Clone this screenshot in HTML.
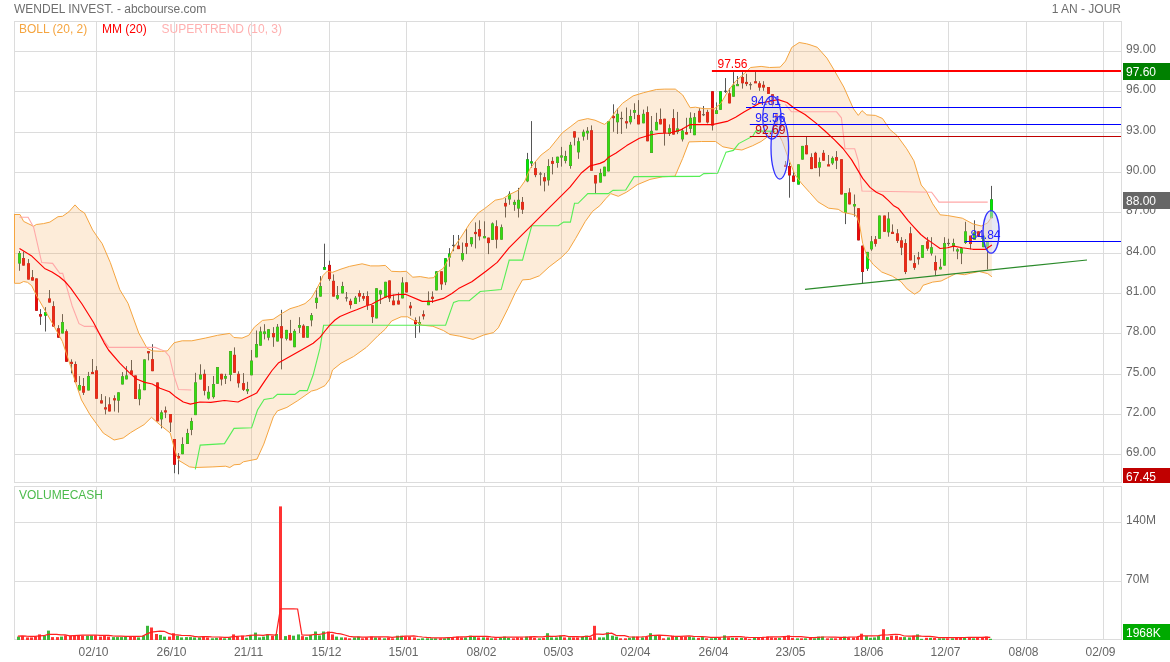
<!DOCTYPE html>
<html><head><meta charset="utf-8"><style>
html,body{margin:0;padding:0;background:#fff;width:1170px;height:662px;overflow:hidden}
svg{display:block}
text{will-change:transform}
</style></head><body>
<svg width="1170" height="662" viewBox="0 0 1170 662">
<rect x="14.5" y="21.5" width="1107" height="461" fill="#fff" stroke="#dcdcdc" stroke-width="1"/>
<rect x="14.5" y="486.5" width="1107" height="153" fill="#fff" stroke="#dcdcdc" stroke-width="1"/>
<line x1="14" y1="51.5" x2="1122" y2="51.5" stroke="#dcdcdc"/>
<line x1="14" y1="91.5" x2="1122" y2="91.5" stroke="#dcdcdc"/>
<line x1="14" y1="132.5" x2="1122" y2="132.5" stroke="#dcdcdc"/>
<line x1="14" y1="172.5" x2="1122" y2="172.5" stroke="#dcdcdc"/>
<line x1="14" y1="212.5" x2="1122" y2="212.5" stroke="#dcdcdc"/>
<line x1="14" y1="253.5" x2="1122" y2="253.5" stroke="#dcdcdc"/>
<line x1="14" y1="293.5" x2="1122" y2="293.5" stroke="#dcdcdc"/>
<line x1="14" y1="333.5" x2="1122" y2="333.5" stroke="#dcdcdc"/>
<line x1="14" y1="374.5" x2="1122" y2="374.5" stroke="#dcdcdc"/>
<line x1="14" y1="414.5" x2="1122" y2="414.5" stroke="#dcdcdc"/>
<line x1="14" y1="454.5" x2="1122" y2="454.5" stroke="#dcdcdc"/>
<line x1="14" y1="522.5" x2="1122" y2="522.5" stroke="#dcdcdc"/>
<line x1="14" y1="581.5" x2="1122" y2="581.5" stroke="#dcdcdc"/>
<line x1="96.5" y1="21" x2="96.5" y2="483" stroke="#dcdcdc"/>
<line x1="96.5" y1="486" x2="96.5" y2="640" stroke="#dcdcdc"/>
<line x1="174.5" y1="21" x2="174.5" y2="483" stroke="#dcdcdc"/>
<line x1="174.5" y1="486" x2="174.5" y2="640" stroke="#dcdcdc"/>
<line x1="251.5" y1="21" x2="251.5" y2="483" stroke="#dcdcdc"/>
<line x1="251.5" y1="486" x2="251.5" y2="640" stroke="#dcdcdc"/>
<line x1="329.5" y1="21" x2="329.5" y2="483" stroke="#dcdcdc"/>
<line x1="329.5" y1="486" x2="329.5" y2="640" stroke="#dcdcdc"/>
<line x1="406.5" y1="21" x2="406.5" y2="483" stroke="#dcdcdc"/>
<line x1="406.5" y1="486" x2="406.5" y2="640" stroke="#dcdcdc"/>
<line x1="484.5" y1="21" x2="484.5" y2="483" stroke="#dcdcdc"/>
<line x1="484.5" y1="486" x2="484.5" y2="640" stroke="#dcdcdc"/>
<line x1="561.5" y1="21" x2="561.5" y2="483" stroke="#dcdcdc"/>
<line x1="561.5" y1="486" x2="561.5" y2="640" stroke="#dcdcdc"/>
<line x1="638.5" y1="21" x2="638.5" y2="483" stroke="#dcdcdc"/>
<line x1="638.5" y1="486" x2="638.5" y2="640" stroke="#dcdcdc"/>
<line x1="716.5" y1="21" x2="716.5" y2="483" stroke="#dcdcdc"/>
<line x1="716.5" y1="486" x2="716.5" y2="640" stroke="#dcdcdc"/>
<line x1="793.5" y1="21" x2="793.5" y2="483" stroke="#dcdcdc"/>
<line x1="793.5" y1="486" x2="793.5" y2="640" stroke="#dcdcdc"/>
<line x1="871.5" y1="21" x2="871.5" y2="483" stroke="#dcdcdc"/>
<line x1="871.5" y1="486" x2="871.5" y2="640" stroke="#dcdcdc"/>
<line x1="948.5" y1="21" x2="948.5" y2="483" stroke="#dcdcdc"/>
<line x1="948.5" y1="486" x2="948.5" y2="640" stroke="#dcdcdc"/>
<line x1="1026.5" y1="21" x2="1026.5" y2="483" stroke="#dcdcdc"/>
<line x1="1026.5" y1="486" x2="1026.5" y2="640" stroke="#dcdcdc"/>
<line x1="1103.5" y1="21" x2="1103.5" y2="483" stroke="#dcdcdc"/>
<line x1="1103.5" y1="486" x2="1103.5" y2="640" stroke="#dcdcdc"/>
<line x1="19.5" y1="251.0" x2="19.5" y2="270.8" stroke="#555" stroke-width="1"/>
<rect x="18" y="253.0" width="3" height="10.6" fill="#2c962c"/>
<rect x="18.5" y="253.5" width="2" height="9.6" fill="#00ee00"/>
<line x1="23.5" y1="251.5" x2="23.5" y2="265.6" stroke="#555" stroke-width="1"/>
<rect x="22" y="258.0" width="3" height="7.6" fill="#b81c1c"/>
<rect x="22.5" y="258.5" width="2" height="6.6" fill="#f00808"/>
<line x1="28.5" y1="259.0" x2="28.5" y2="279.6" stroke="#555" stroke-width="1"/>
<rect x="27" y="263.2" width="3" height="16.4" fill="#b81c1c"/>
<rect x="27.5" y="263.7" width="2" height="15.4" fill="#f00808"/>
<line x1="32.5" y1="270.0" x2="32.5" y2="280.6" stroke="#555" stroke-width="1"/>
<rect x="31" y="277.2" width="3" height="3.4" fill="#b81c1c"/>
<rect x="31.5" y="277.7" width="2" height="2.4" fill="#f00808"/>
<line x1="36.5" y1="278.4" x2="36.5" y2="310.8" stroke="#555" stroke-width="1"/>
<rect x="35" y="278.4" width="3" height="32.4" fill="#b81c1c"/>
<rect x="35.5" y="278.9" width="2" height="31.4" fill="#f00808"/>
<line x1="40.5" y1="309.1" x2="40.5" y2="324.9" stroke="#555" stroke-width="1"/>
<rect x="39" y="314.1" width="3" height="2.5" fill="#b81c1c"/>
<rect x="39.5" y="314.6" width="2" height="1.5" fill="#f00808"/>
<line x1="45.5" y1="307.1" x2="45.5" y2="331.5" stroke="#555" stroke-width="1"/>
<rect x="44" y="312.1" width="3" height="3.7" fill="#2c962c"/>
<rect x="44.5" y="312.6" width="2" height="2.7" fill="#00ee00"/>
<line x1="49.5" y1="290.0" x2="49.5" y2="302.6" stroke="#555" stroke-width="1"/>
<rect x="48" y="298.4" width="3" height="4.2" fill="#b81c1c"/>
<rect x="48.5" y="298.9" width="2" height="3.2" fill="#f00808"/>
<line x1="53.5" y1="301.3" x2="53.5" y2="326.6" stroke="#555" stroke-width="1"/>
<rect x="52" y="306.1" width="3" height="20.5" fill="#b81c1c"/>
<rect x="52.5" y="306.6" width="2" height="19.5" fill="#f00808"/>
<line x1="58.5" y1="325.2" x2="58.5" y2="337.7" stroke="#555" stroke-width="1"/>
<rect x="57" y="328.2" width="3" height="9.5" fill="#b81c1c"/>
<rect x="57.5" y="328.7" width="2" height="8.5" fill="#f00808"/>
<line x1="62.5" y1="314.1" x2="62.5" y2="333.5" stroke="#555" stroke-width="1"/>
<rect x="61" y="322.0" width="3" height="11.5" fill="#2c962c"/>
<rect x="61.5" y="322.5" width="2" height="10.5" fill="#00ee00"/>
<line x1="66.5" y1="329.4" x2="66.5" y2="361.8" stroke="#555" stroke-width="1"/>
<rect x="65" y="331.2" width="3" height="30.6" fill="#b81c1c"/>
<rect x="65.5" y="331.7" width="2" height="29.6" fill="#f00808"/>
<line x1="71.5" y1="359.3" x2="71.5" y2="373.4" stroke="#555" stroke-width="1"/>
<rect x="70" y="361.8" width="3" height="2.2" fill="#b81c1c"/>
<rect x="70.5" y="362.3" width="2" height="1.2" fill="#f00808"/>
<line x1="75.5" y1="361.5" x2="75.5" y2="382.2" stroke="#555" stroke-width="1"/>
<rect x="74" y="364.0" width="3" height="18.2" fill="#b81c1c"/>
<rect x="74.5" y="364.5" width="2" height="17.2" fill="#f00808"/>
<line x1="79.5" y1="376.1" x2="79.5" y2="390.5" stroke="#555" stroke-width="1"/>
<rect x="78" y="385.0" width="3" height="5.5" fill="#2c962c"/>
<rect x="78.5" y="385.5" width="2" height="4.5" fill="#00ee00"/>
<line x1="83.5" y1="378.0" x2="83.5" y2="395.0" stroke="#555" stroke-width="1"/>
<rect x="82" y="386.0" width="3" height="6.7" fill="#b81c1c"/>
<rect x="82.5" y="386.5" width="2" height="5.7" fill="#f00808"/>
<line x1="88.5" y1="371.9" x2="88.5" y2="390.5" stroke="#555" stroke-width="1"/>
<rect x="87" y="376.0" width="3" height="14.5" fill="#2c962c"/>
<rect x="87.5" y="376.5" width="2" height="13.5" fill="#00ee00"/>
<line x1="92.5" y1="359.0" x2="92.5" y2="373.6" stroke="#555" stroke-width="1"/>
<rect x="91" y="371.9" width="3" height="2.2" fill="#b81c1c"/>
<rect x="91.5" y="372.4" width="2" height="1.2" fill="#f00808"/>
<line x1="96.5" y1="366.1" x2="96.5" y2="398.8" stroke="#555" stroke-width="1"/>
<rect x="95" y="370.3" width="3" height="28.5" fill="#b81c1c"/>
<rect x="95.5" y="370.8" width="2" height="27.5" fill="#f00808"/>
<line x1="101.5" y1="394.0" x2="101.5" y2="403.5" stroke="#555" stroke-width="1"/>
<rect x="100" y="400.3" width="3" height="3.2" fill="#b81c1c"/>
<rect x="100.5" y="400.8" width="2" height="2.2" fill="#f00808"/>
<line x1="105.5" y1="396.2" x2="105.5" y2="414.4" stroke="#555" stroke-width="1"/>
<rect x="104" y="407.3" width="3" height="2.2" fill="#b81c1c"/>
<rect x="104.5" y="407.8" width="2" height="1.2" fill="#f00808"/>
<line x1="109.5" y1="397.3" x2="109.5" y2="411.5" stroke="#555" stroke-width="1"/>
<rect x="108" y="404.3" width="3" height="7.2" fill="#b81c1c"/>
<rect x="108.5" y="404.8" width="2" height="6.2" fill="#f00808"/>
<line x1="114.5" y1="395.3" x2="114.5" y2="411.5" stroke="#555" stroke-width="1"/>
<rect x="113" y="398.2" width="3" height="2.2" fill="#b81c1c"/>
<rect x="113.5" y="398.7" width="2" height="1.2" fill="#f00808"/>
<line x1="118.5" y1="392.3" x2="118.5" y2="412.6" stroke="#555" stroke-width="1"/>
<rect x="117" y="392.3" width="3" height="8.4" fill="#2c962c"/>
<rect x="117.5" y="392.8" width="2" height="7.4" fill="#00ee00"/>
<line x1="122.5" y1="372.1" x2="122.5" y2="384.5" stroke="#555" stroke-width="1"/>
<rect x="121" y="376.2" width="3" height="8.3" fill="#2c962c"/>
<rect x="121.5" y="376.7" width="2" height="7.3" fill="#00ee00"/>
<line x1="126.5" y1="366.1" x2="126.5" y2="379.4" stroke="#555" stroke-width="1"/>
<rect x="125" y="375.4" width="3" height="4.0" fill="#2c962c"/>
<rect x="125.5" y="375.9" width="2" height="3.0" fill="#00ee00"/>
<line x1="131.5" y1="360.0" x2="131.5" y2="374.6" stroke="#555" stroke-width="1"/>
<rect x="130" y="370.4" width="3" height="4.2" fill="#b81c1c"/>
<rect x="130.5" y="370.9" width="2" height="3.2" fill="#f00808"/>
<line x1="135.5" y1="375.4" x2="135.5" y2="399.0" stroke="#555" stroke-width="1"/>
<rect x="134" y="375.4" width="3" height="23.6" fill="#b81c1c"/>
<rect x="134.5" y="375.9" width="2" height="22.6" fill="#f00808"/>
<line x1="139.5" y1="384.0" x2="139.5" y2="405.3" stroke="#555" stroke-width="1"/>
<rect x="138" y="389.4" width="3" height="9.9" fill="#2c962c"/>
<rect x="138.5" y="389.9" width="2" height="8.9" fill="#00ee00"/>
<line x1="144.5" y1="359.4" x2="144.5" y2="390.2" stroke="#555" stroke-width="1"/>
<rect x="143" y="359.4" width="3" height="30.8" fill="#2c962c"/>
<rect x="143.5" y="359.9" width="2" height="29.8" fill="#00ee00"/>
<line x1="148.5" y1="351.1" x2="148.5" y2="360.4" stroke="#555" stroke-width="1"/>
<rect x="147" y="351.1" width="3" height="2.2" fill="#b81c1c"/>
<rect x="147.5" y="351.6" width="2" height="1.2" fill="#f00808"/>
<line x1="152.5" y1="344.2" x2="152.5" y2="371.2" stroke="#555" stroke-width="1"/>
<rect x="151" y="359.1" width="3" height="12.1" fill="#b81c1c"/>
<rect x="151.5" y="359.6" width="2" height="11.1" fill="#f00808"/>
<line x1="157.5" y1="382.4" x2="157.5" y2="421.4" stroke="#555" stroke-width="1"/>
<rect x="156" y="382.4" width="3" height="39.0" fill="#b81c1c"/>
<rect x="156.5" y="382.9" width="2" height="38.0" fill="#f00808"/>
<line x1="161.5" y1="410.3" x2="161.5" y2="428.4" stroke="#555" stroke-width="1"/>
<rect x="160" y="412.3" width="3" height="7.1" fill="#2c962c"/>
<rect x="160.5" y="412.8" width="2" height="6.1" fill="#00ee00"/>
<line x1="165.5" y1="406.5" x2="165.5" y2="418.1" stroke="#555" stroke-width="1"/>
<rect x="164" y="410.3" width="3" height="2.2" fill="#b81c1c"/>
<rect x="164.5" y="410.8" width="2" height="1.2" fill="#f00808"/>
<line x1="170.5" y1="414.0" x2="170.5" y2="432.0" stroke="#555" stroke-width="1"/>
<rect x="169" y="414.0" width="3" height="8.5" fill="#b81c1c"/>
<rect x="169.5" y="414.5" width="2" height="7.5" fill="#f00808"/>
<line x1="174.5" y1="439.0" x2="174.5" y2="473.2" stroke="#555" stroke-width="1"/>
<rect x="173" y="439.0" width="3" height="25.8" fill="#b81c1c"/>
<rect x="173.5" y="439.5" width="2" height="24.8" fill="#f00808"/>
<line x1="178.5" y1="453.1" x2="178.5" y2="474.3" stroke="#555" stroke-width="1"/>
<rect x="177" y="455.9" width="3" height="2.5" fill="#b81c1c"/>
<rect x="177.5" y="456.4" width="2" height="1.5" fill="#f00808"/>
<line x1="182.5" y1="437.3" x2="182.5" y2="454.2" stroke="#555" stroke-width="1"/>
<rect x="181" y="444.0" width="3" height="10.2" fill="#2c962c"/>
<rect x="181.5" y="444.5" width="2" height="9.2" fill="#00ee00"/>
<line x1="187.5" y1="428.8" x2="187.5" y2="444.0" stroke="#555" stroke-width="1"/>
<rect x="186" y="433.0" width="3" height="11.0" fill="#2c962c"/>
<rect x="186.5" y="433.5" width="2" height="10.0" fill="#00ee00"/>
<line x1="191.5" y1="417.8" x2="191.5" y2="435.2" stroke="#555" stroke-width="1"/>
<rect x="190" y="421.0" width="3" height="8.9" fill="#2c962c"/>
<rect x="190.5" y="421.5" width="2" height="7.9" fill="#00ee00"/>
<line x1="195.5" y1="372.8" x2="195.5" y2="415.1" stroke="#555" stroke-width="1"/>
<rect x="194" y="382.3" width="3" height="32.8" fill="#2c962c"/>
<rect x="194.5" y="382.8" width="2" height="31.8" fill="#00ee00"/>
<line x1="200.5" y1="364.3" x2="200.5" y2="379.5" stroke="#555" stroke-width="1"/>
<rect x="199" y="374.5" width="3" height="5.0" fill="#2c962c"/>
<rect x="199.5" y="375.0" width="2" height="4.0" fill="#00ee00"/>
<line x1="204.5" y1="369.6" x2="204.5" y2="395.4" stroke="#555" stroke-width="1"/>
<rect x="203" y="373.8" width="3" height="17.0" fill="#b81c1c"/>
<rect x="203.5" y="374.3" width="2" height="16.0" fill="#f00808"/>
<line x1="208.5" y1="386.1" x2="208.5" y2="399.6" stroke="#555" stroke-width="1"/>
<rect x="207" y="391.8" width="3" height="6.8" fill="#2c962c"/>
<rect x="207.5" y="392.3" width="2" height="5.8" fill="#00ee00"/>
<line x1="213.5" y1="376.0" x2="213.5" y2="398.6" stroke="#555" stroke-width="1"/>
<rect x="212" y="384.0" width="3" height="13.1" fill="#2c962c"/>
<rect x="212.5" y="384.5" width="2" height="12.1" fill="#00ee00"/>
<line x1="217.5" y1="367.0" x2="217.5" y2="383.8" stroke="#555" stroke-width="1"/>
<rect x="216" y="367.0" width="3" height="16.8" fill="#2c962c"/>
<rect x="216.5" y="367.5" width="2" height="15.8" fill="#00ee00"/>
<line x1="221.5" y1="373.8" x2="221.5" y2="385.5" stroke="#555" stroke-width="1"/>
<rect x="220" y="373.8" width="3" height="5.7" fill="#b81c1c"/>
<rect x="220.5" y="374.3" width="2" height="4.7" fill="#f00808"/>
<line x1="225.5" y1="373.8" x2="225.5" y2="384.0" stroke="#555" stroke-width="1"/>
<rect x="224" y="376.0" width="3" height="2.7" fill="#2c962c"/>
<rect x="224.5" y="376.5" width="2" height="1.7" fill="#00ee00"/>
<line x1="230.5" y1="351.0" x2="230.5" y2="381.2" stroke="#555" stroke-width="1"/>
<rect x="229" y="351.0" width="3" height="23.9" fill="#2c962c"/>
<rect x="229.5" y="351.5" width="2" height="22.9" fill="#00ee00"/>
<line x1="234.5" y1="347.4" x2="234.5" y2="372.8" stroke="#555" stroke-width="1"/>
<rect x="233" y="354.8" width="3" height="18.0" fill="#b81c1c"/>
<rect x="233.5" y="355.3" width="2" height="17.0" fill="#f00808"/>
<line x1="238.5" y1="371.3" x2="238.5" y2="387.6" stroke="#555" stroke-width="1"/>
<rect x="237" y="373.8" width="3" height="9.5" fill="#b81c1c"/>
<rect x="237.5" y="374.3" width="2" height="8.5" fill="#f00808"/>
<line x1="243.5" y1="373.1" x2="243.5" y2="391.0" stroke="#555" stroke-width="1"/>
<rect x="242" y="383.1" width="3" height="6.7" fill="#b81c1c"/>
<rect x="242.5" y="383.6" width="2" height="5.7" fill="#f00808"/>
<line x1="247.5" y1="381.8" x2="247.5" y2="394.0" stroke="#555" stroke-width="1"/>
<rect x="246" y="389.0" width="3" height="2.3" fill="#2c962c"/>
<rect x="246.5" y="389.5" width="2" height="1.3" fill="#00ee00"/>
<line x1="251.5" y1="350.0" x2="251.5" y2="375.3" stroke="#555" stroke-width="1"/>
<rect x="250" y="360.5" width="3" height="14.8" fill="#2c962c"/>
<rect x="250.5" y="361.0" width="2" height="13.8" fill="#00ee00"/>
<line x1="256.5" y1="330.5" x2="256.5" y2="357.4" stroke="#555" stroke-width="1"/>
<rect x="255" y="344.0" width="3" height="13.4" fill="#2c962c"/>
<rect x="255.5" y="344.5" width="2" height="12.4" fill="#00ee00"/>
<line x1="260.5" y1="326.7" x2="260.5" y2="345.7" stroke="#555" stroke-width="1"/>
<rect x="259" y="331.4" width="3" height="14.3" fill="#2c962c"/>
<rect x="259.5" y="331.9" width="2" height="13.3" fill="#00ee00"/>
<line x1="264.5" y1="324.2" x2="264.5" y2="339.4" stroke="#555" stroke-width="1"/>
<rect x="263" y="331.4" width="3" height="2.7" fill="#2c962c"/>
<rect x="263.5" y="331.9" width="2" height="1.7" fill="#00ee00"/>
<line x1="268.5" y1="329.2" x2="268.5" y2="340.4" stroke="#555" stroke-width="1"/>
<rect x="267" y="329.2" width="3" height="8.5" fill="#2c962c"/>
<rect x="267.5" y="329.7" width="2" height="7.5" fill="#00ee00"/>
<line x1="273.5" y1="327.1" x2="273.5" y2="346.8" stroke="#555" stroke-width="1"/>
<rect x="272" y="333.0" width="3" height="4.3" fill="#b81c1c"/>
<rect x="272.5" y="333.5" width="2" height="3.3" fill="#f00808"/>
<line x1="277.5" y1="324.0" x2="277.5" y2="341.5" stroke="#555" stroke-width="1"/>
<rect x="276" y="326.7" width="3" height="14.8" fill="#2c962c"/>
<rect x="276.5" y="327.2" width="2" height="13.8" fill="#00ee00"/>
<line x1="281.5" y1="309.8" x2="281.5" y2="369.4" stroke="#555" stroke-width="1"/>
<rect x="280" y="326.1" width="3" height="12.2" fill="#b81c1c"/>
<rect x="280.5" y="326.6" width="2" height="11.2" fill="#f00808"/>
<line x1="286.5" y1="329.9" x2="286.5" y2="340.4" stroke="#555" stroke-width="1"/>
<rect x="285" y="329.9" width="3" height="8.9" fill="#2c962c"/>
<rect x="285.5" y="330.4" width="2" height="7.9" fill="#00ee00"/>
<line x1="290.5" y1="319.9" x2="290.5" y2="340.4" stroke="#555" stroke-width="1"/>
<rect x="289" y="333.0" width="3" height="7.4" fill="#b81c1c"/>
<rect x="289.5" y="333.5" width="2" height="6.4" fill="#f00808"/>
<line x1="294.5" y1="329.2" x2="294.5" y2="347.2" stroke="#555" stroke-width="1"/>
<rect x="293" y="330.9" width="3" height="16.3" fill="#2c962c"/>
<rect x="293.5" y="331.4" width="2" height="15.3" fill="#00ee00"/>
<line x1="299.5" y1="317.2" x2="299.5" y2="333.0" stroke="#555" stroke-width="1"/>
<rect x="298" y="325.0" width="3" height="2.8" fill="#2c962c"/>
<rect x="298.5" y="325.5" width="2" height="1.8" fill="#00ee00"/>
<line x1="303.5" y1="324.2" x2="303.5" y2="337.7" stroke="#555" stroke-width="1"/>
<rect x="302" y="325.6" width="3" height="12.1" fill="#b81c1c"/>
<rect x="302.5" y="326.1" width="2" height="11.1" fill="#f00808"/>
<line x1="307.5" y1="326.1" x2="307.5" y2="337.7" stroke="#555" stroke-width="1"/>
<rect x="306" y="326.1" width="3" height="11.6" fill="#2c962c"/>
<rect x="306.5" y="326.6" width="2" height="10.6" fill="#00ee00"/>
<line x1="311.5" y1="313.0" x2="311.5" y2="326.3" stroke="#555" stroke-width="1"/>
<rect x="310" y="315.1" width="3" height="5.3" fill="#2c962c"/>
<rect x="310.5" y="315.6" width="2" height="4.3" fill="#00ee00"/>
<line x1="316.5" y1="288.2" x2="316.5" y2="308.7" stroke="#555" stroke-width="1"/>
<rect x="315" y="297.7" width="3" height="5.3" fill="#2c962c"/>
<rect x="315.5" y="298.2" width="2" height="4.3" fill="#00ee00"/>
<line x1="320.5" y1="276.1" x2="320.5" y2="296.6" stroke="#555" stroke-width="1"/>
<rect x="319" y="286.0" width="3" height="10.6" fill="#2c962c"/>
<rect x="319.5" y="286.5" width="2" height="9.6" fill="#00ee00"/>
<line x1="324.5" y1="243.7" x2="324.5" y2="269.8" stroke="#555" stroke-width="1"/>
<rect x="323" y="267.0" width="3" height="2.8" fill="#2c962c"/>
<rect x="323.5" y="267.5" width="2" height="1.8" fill="#00ee00"/>
<line x1="329.5" y1="260.7" x2="329.5" y2="280.8" stroke="#555" stroke-width="1"/>
<rect x="328" y="264.9" width="3" height="14.2" fill="#b81c1c"/>
<rect x="328.5" y="265.4" width="2" height="13.2" fill="#f00808"/>
<line x1="333.5" y1="274.4" x2="333.5" y2="296.6" stroke="#555" stroke-width="1"/>
<rect x="332" y="280.8" width="3" height="15.8" fill="#b81c1c"/>
<rect x="332.5" y="281.3" width="2" height="14.8" fill="#f00808"/>
<line x1="337.5" y1="286.0" x2="337.5" y2="299.8" stroke="#555" stroke-width="1"/>
<rect x="336" y="295.1" width="3" height="3.6" fill="#2c962c"/>
<rect x="336.5" y="295.6" width="2" height="2.6" fill="#00ee00"/>
<line x1="342.5" y1="281.8" x2="342.5" y2="293.4" stroke="#555" stroke-width="1"/>
<rect x="341" y="286.0" width="3" height="7.4" fill="#2c962c"/>
<rect x="341.5" y="286.5" width="2" height="6.4" fill="#00ee00"/>
<line x1="346.5" y1="292.0" x2="346.5" y2="301.5" stroke="#555" stroke-width="1"/>
<rect x="345" y="297.3" width="3" height="1.2" fill="#555"/>
<line x1="350.5" y1="298.7" x2="350.5" y2="308.7" stroke="#555" stroke-width="1"/>
<rect x="349" y="300.8" width="3" height="4.3" fill="#b81c1c"/>
<rect x="349.5" y="301.3" width="2" height="3.3" fill="#f00808"/>
<line x1="355.5" y1="296.0" x2="355.5" y2="304.0" stroke="#555" stroke-width="1"/>
<rect x="354" y="297.7" width="3" height="6.3" fill="#2c962c"/>
<rect x="354.5" y="298.2" width="2" height="5.3" fill="#00ee00"/>
<line x1="359.5" y1="290.3" x2="359.5" y2="301.9" stroke="#555" stroke-width="1"/>
<rect x="358" y="293.0" width="3" height="3.6" fill="#b81c1c"/>
<rect x="358.5" y="293.5" width="2" height="2.6" fill="#f00808"/>
<line x1="363.5" y1="293.0" x2="363.5" y2="300.8" stroke="#555" stroke-width="1"/>
<rect x="362" y="296.0" width="3" height="2.7" fill="#b81c1c"/>
<rect x="362.5" y="296.5" width="2" height="1.7" fill="#f00808"/>
<line x1="367.5" y1="291.3" x2="367.5" y2="309.9" stroke="#555" stroke-width="1"/>
<rect x="366" y="296.0" width="3" height="9.1" fill="#b81c1c"/>
<rect x="366.5" y="296.5" width="2" height="8.1" fill="#f00808"/>
<line x1="372.5" y1="305.1" x2="372.5" y2="323.0" stroke="#555" stroke-width="1"/>
<rect x="371" y="305.1" width="3" height="12.0" fill="#b81c1c"/>
<rect x="371.5" y="305.6" width="2" height="11.0" fill="#f00808"/>
<line x1="376.5" y1="288.2" x2="376.5" y2="318.4" stroke="#555" stroke-width="1"/>
<rect x="375" y="288.2" width="3" height="30.2" fill="#2c962c"/>
<rect x="375.5" y="288.7" width="2" height="29.2" fill="#00ee00"/>
<line x1="380.5" y1="289.8" x2="380.5" y2="304.0" stroke="#555" stroke-width="1"/>
<rect x="379" y="290.3" width="3" height="4.2" fill="#2c962c"/>
<rect x="379.5" y="290.8" width="2" height="3.2" fill="#00ee00"/>
<line x1="385.5" y1="281.8" x2="385.5" y2="297.7" stroke="#555" stroke-width="1"/>
<rect x="384" y="281.8" width="3" height="15.9" fill="#2c962c"/>
<rect x="384.5" y="282.3" width="2" height="14.9" fill="#00ee00"/>
<line x1="389.5" y1="280.4" x2="389.5" y2="302.0" stroke="#555" stroke-width="1"/>
<rect x="388" y="280.4" width="3" height="18.0" fill="#b81c1c"/>
<rect x="388.5" y="280.9" width="2" height="17.0" fill="#f00808"/>
<line x1="393.5" y1="294.6" x2="393.5" y2="305.2" stroke="#555" stroke-width="1"/>
<rect x="392" y="300.5" width="3" height="4.7" fill="#b81c1c"/>
<rect x="392.5" y="301.0" width="2" height="3.7" fill="#f00808"/>
<line x1="398.5" y1="292.5" x2="398.5" y2="304.5" stroke="#555" stroke-width="1"/>
<rect x="397" y="300.5" width="3" height="4.0" fill="#b81c1c"/>
<rect x="397.5" y="301.0" width="2" height="3.0" fill="#f00808"/>
<line x1="402.5" y1="277.2" x2="402.5" y2="298.4" stroke="#555" stroke-width="1"/>
<rect x="401" y="282.5" width="3" height="15.9" fill="#2c962c"/>
<rect x="401.5" y="283.0" width="2" height="14.9" fill="#00ee00"/>
<line x1="406.5" y1="282.3" x2="406.5" y2="292.5" stroke="#555" stroke-width="1"/>
<rect x="405" y="282.3" width="3" height="10.2" fill="#b81c1c"/>
<rect x="405.5" y="282.8" width="2" height="9.2" fill="#f00808"/>
<line x1="410.5" y1="302.0" x2="410.5" y2="315.7" stroke="#555" stroke-width="1"/>
<rect x="409" y="305.6" width="3" height="2.7" fill="#b81c1c"/>
<rect x="409.5" y="306.1" width="2" height="1.7" fill="#f00808"/>
<line x1="415.5" y1="317.4" x2="415.5" y2="337.9" stroke="#555" stroke-width="1"/>
<rect x="414" y="320.0" width="3" height="4.2" fill="#b81c1c"/>
<rect x="414.5" y="320.5" width="2" height="3.2" fill="#f00808"/>
<line x1="419.5" y1="316.4" x2="419.5" y2="332.6" stroke="#555" stroke-width="1"/>
<rect x="418" y="322.0" width="3" height="2.2" fill="#2c962c"/>
<rect x="418.5" y="322.5" width="2" height="1.2" fill="#00ee00"/>
<line x1="423.5" y1="310.4" x2="423.5" y2="319.5" stroke="#555" stroke-width="1"/>
<rect x="422" y="314.2" width="3" height="2.2" fill="#b81c1c"/>
<rect x="422.5" y="314.7" width="2" height="1.2" fill="#f00808"/>
<line x1="428.5" y1="291.4" x2="428.5" y2="305.2" stroke="#555" stroke-width="1"/>
<rect x="427" y="300.5" width="3" height="4.7" fill="#2c962c"/>
<rect x="427.5" y="301.0" width="2" height="3.7" fill="#00ee00"/>
<line x1="432.5" y1="291.4" x2="432.5" y2="303.0" stroke="#555" stroke-width="1"/>
<rect x="431" y="296.7" width="3" height="2.2" fill="#b81c1c"/>
<rect x="431.5" y="297.2" width="2" height="1.2" fill="#f00808"/>
<line x1="436.5" y1="271.3" x2="436.5" y2="290.4" stroke="#555" stroke-width="1"/>
<rect x="435" y="271.3" width="3" height="19.1" fill="#2c962c"/>
<rect x="435.5" y="271.8" width="2" height="18.1" fill="#00ee00"/>
<line x1="441.5" y1="271.3" x2="441.5" y2="289.9" stroke="#555" stroke-width="1"/>
<rect x="440" y="271.3" width="3" height="13.1" fill="#b81c1c"/>
<rect x="440.5" y="271.8" width="2" height="12.1" fill="#f00808"/>
<line x1="445.5" y1="258.2" x2="445.5" y2="285.1" stroke="#555" stroke-width="1"/>
<rect x="444" y="258.2" width="3" height="24.1" fill="#2c962c"/>
<rect x="444.5" y="258.7" width="2" height="23.1" fill="#00ee00"/>
<line x1="449.5" y1="248.1" x2="449.5" y2="266.7" stroke="#555" stroke-width="1"/>
<rect x="448" y="253.4" width="3" height="4.2" fill="#2c962c"/>
<rect x="448.5" y="253.9" width="2" height="3.2" fill="#00ee00"/>
<line x1="453.5" y1="235.0" x2="453.5" y2="251.2" stroke="#555" stroke-width="1"/>
<rect x="452" y="244.8" width="3" height="1.2" fill="#555"/>
<line x1="458.5" y1="235.0" x2="458.5" y2="249.1" stroke="#555" stroke-width="1"/>
<rect x="457" y="245.5" width="3" height="3.6" fill="#b81c1c"/>
<rect x="457.5" y="246.0" width="2" height="2.6" fill="#f00808"/>
<line x1="462.5" y1="242.5" x2="462.5" y2="261.5" stroke="#555" stroke-width="1"/>
<rect x="461" y="253.0" width="3" height="6.8" fill="#2c962c"/>
<rect x="461.5" y="253.5" width="2" height="5.8" fill="#00ee00"/>
<line x1="466.5" y1="228.1" x2="466.5" y2="254.1" stroke="#555" stroke-width="1"/>
<rect x="465" y="243.1" width="3" height="3.6" fill="#b81c1c"/>
<rect x="465.5" y="243.6" width="2" height="2.6" fill="#f00808"/>
<line x1="471.5" y1="237.2" x2="471.5" y2="246.7" stroke="#555" stroke-width="1"/>
<rect x="470" y="237.2" width="3" height="7.0" fill="#2c962c"/>
<rect x="470.5" y="237.7" width="2" height="6.0" fill="#00ee00"/>
<line x1="475.5" y1="222.4" x2="475.5" y2="248.4" stroke="#555" stroke-width="1"/>
<rect x="474" y="231.9" width="3" height="2.2" fill="#b81c1c"/>
<rect x="474.5" y="232.4" width="2" height="1.2" fill="#f00808"/>
<line x1="479.5" y1="220.3" x2="479.5" y2="240.4" stroke="#555" stroke-width="1"/>
<rect x="478" y="229.1" width="3" height="7.4" fill="#b81c1c"/>
<rect x="478.5" y="229.6" width="2" height="6.4" fill="#f00808"/>
<line x1="484.5" y1="221.3" x2="484.5" y2="238.2" stroke="#555" stroke-width="1"/>
<rect x="483" y="236.1" width="3" height="2.2" fill="#2c962c"/>
<rect x="483.5" y="236.6" width="2" height="1.2" fill="#00ee00"/>
<line x1="488.5" y1="237.6" x2="488.5" y2="254.1" stroke="#555" stroke-width="1"/>
<rect x="487" y="237.6" width="3" height="5.5" fill="#b81c1c"/>
<rect x="487.5" y="238.1" width="2" height="4.5" fill="#f00808"/>
<line x1="492.5" y1="222.4" x2="492.5" y2="239.9" stroke="#555" stroke-width="1"/>
<rect x="491" y="223.4" width="3" height="16.5" fill="#2c962c"/>
<rect x="491.5" y="223.9" width="2" height="15.5" fill="#00ee00"/>
<line x1="496.5" y1="220.3" x2="496.5" y2="248.4" stroke="#555" stroke-width="1"/>
<rect x="495" y="226.2" width="3" height="13.5" fill="#b81c1c"/>
<rect x="495.5" y="226.7" width="2" height="12.5" fill="#f00808"/>
<line x1="501.5" y1="224.5" x2="501.5" y2="239.7" stroke="#555" stroke-width="1"/>
<rect x="500" y="227.2" width="3" height="12.5" fill="#2c962c"/>
<rect x="500.5" y="227.7" width="2" height="11.5" fill="#00ee00"/>
<line x1="505.5" y1="198.1" x2="505.5" y2="217.5" stroke="#555" stroke-width="1"/>
<rect x="504" y="202.9" width="3" height="3.6" fill="#b81c1c"/>
<rect x="504.5" y="203.4" width="2" height="2.6" fill="#f00808"/>
<line x1="509.5" y1="191.3" x2="509.5" y2="204.8" stroke="#555" stroke-width="1"/>
<rect x="508" y="193.8" width="3" height="5.7" fill="#2c962c"/>
<rect x="508.5" y="194.3" width="2" height="4.7" fill="#00ee00"/>
<line x1="514.5" y1="199.8" x2="514.5" y2="210.8" stroke="#555" stroke-width="1"/>
<rect x="513" y="201.9" width="3" height="2.9" fill="#2c962c"/>
<rect x="513.5" y="202.4" width="2" height="1.9" fill="#00ee00"/>
<line x1="518.5" y1="187.9" x2="518.5" y2="217.5" stroke="#555" stroke-width="1"/>
<rect x="517" y="199.8" width="3" height="8.8" fill="#2c962c"/>
<rect x="517.5" y="200.3" width="2" height="7.8" fill="#00ee00"/>
<line x1="522.5" y1="197.0" x2="522.5" y2="213.9" stroke="#555" stroke-width="1"/>
<rect x="521" y="201.9" width="3" height="7.8" fill="#b81c1c"/>
<rect x="521.5" y="202.4" width="2" height="6.8" fill="#f00808"/>
<line x1="527.5" y1="152.9" x2="527.5" y2="182.2" stroke="#555" stroke-width="1"/>
<rect x="526" y="159.2" width="3" height="22.2" fill="#2c962c"/>
<rect x="526.5" y="159.7" width="2" height="21.2" fill="#00ee00"/>
<line x1="531.5" y1="121.1" x2="531.5" y2="167.7" stroke="#555" stroke-width="1"/>
<rect x="530" y="161.3" width="3" height="2.2" fill="#2c962c"/>
<rect x="530.5" y="161.8" width="2" height="1.2" fill="#00ee00"/>
<line x1="535.5" y1="161.3" x2="535.5" y2="177.2" stroke="#555" stroke-width="1"/>
<rect x="534" y="168.1" width="3" height="7.0" fill="#b81c1c"/>
<rect x="534.5" y="168.6" width="2" height="6.0" fill="#f00808"/>
<line x1="540.5" y1="171.9" x2="540.5" y2="185.6" stroke="#555" stroke-width="1"/>
<rect x="539" y="173.4" width="3" height="1.2" fill="#555"/>
<line x1="544.5" y1="173.0" x2="544.5" y2="191.4" stroke="#555" stroke-width="1"/>
<rect x="543" y="177.2" width="3" height="4.2" fill="#b81c1c"/>
<rect x="543.5" y="177.7" width="2" height="3.2" fill="#f00808"/>
<line x1="548.5" y1="159.2" x2="548.5" y2="185.6" stroke="#555" stroke-width="1"/>
<rect x="547" y="166.0" width="3" height="14.4" fill="#2c962c"/>
<rect x="547.5" y="166.5" width="2" height="13.4" fill="#00ee00"/>
<line x1="552.5" y1="157.1" x2="552.5" y2="174.4" stroke="#555" stroke-width="1"/>
<rect x="551" y="160.9" width="3" height="3.0" fill="#b81c1c"/>
<rect x="551.5" y="161.4" width="2" height="2.0" fill="#f00808"/>
<line x1="557.5" y1="156.7" x2="557.5" y2="167.7" stroke="#555" stroke-width="1"/>
<rect x="556" y="156.7" width="3" height="6.3" fill="#2c962c"/>
<rect x="556.5" y="157.2" width="2" height="5.3" fill="#00ee00"/>
<line x1="561.5" y1="146.9" x2="561.5" y2="166.6" stroke="#555" stroke-width="1"/>
<rect x="560" y="155.4" width="3" height="2.2" fill="#2c962c"/>
<rect x="560.5" y="155.9" width="2" height="1.2" fill="#00ee00"/>
<line x1="565.5" y1="150.8" x2="565.5" y2="163.4" stroke="#555" stroke-width="1"/>
<rect x="564" y="156.0" width="3" height="4.9" fill="#2c962c"/>
<rect x="564.5" y="156.5" width="2" height="3.9" fill="#00ee00"/>
<line x1="570.5" y1="141.9" x2="570.5" y2="168.7" stroke="#555" stroke-width="1"/>
<rect x="569" y="144.8" width="3" height="21.2" fill="#2c962c"/>
<rect x="569.5" y="145.3" width="2" height="20.2" fill="#00ee00"/>
<line x1="574.5" y1="131.3" x2="574.5" y2="145.5" stroke="#555" stroke-width="1"/>
<rect x="573" y="131.3" width="3" height="6.3" fill="#b81c1c"/>
<rect x="573.5" y="131.8" width="2" height="5.3" fill="#f00808"/>
<line x1="578.5" y1="137.6" x2="578.5" y2="158.8" stroke="#555" stroke-width="1"/>
<rect x="577" y="141.2" width="3" height="11.2" fill="#2c962c"/>
<rect x="577.5" y="141.7" width="2" height="10.2" fill="#00ee00"/>
<line x1="583.5" y1="129.6" x2="583.5" y2="140.6" stroke="#555" stroke-width="1"/>
<rect x="582" y="131.7" width="3" height="4.9" fill="#2c962c"/>
<rect x="582.5" y="132.2" width="2" height="3.9" fill="#00ee00"/>
<line x1="587.5" y1="127.1" x2="587.5" y2="139.8" stroke="#555" stroke-width="1"/>
<rect x="586" y="130.7" width="3" height="2.7" fill="#2c962c"/>
<rect x="586.5" y="131.2" width="2" height="1.7" fill="#00ee00"/>
<line x1="591.5" y1="125.4" x2="591.5" y2="170.8" stroke="#555" stroke-width="1"/>
<rect x="590" y="130.2" width="3" height="40.6" fill="#b81c1c"/>
<rect x="590.5" y="130.7" width="2" height="39.6" fill="#f00808"/>
<line x1="595.5" y1="175.1" x2="595.5" y2="193.0" stroke="#555" stroke-width="1"/>
<rect x="594" y="175.1" width="3" height="8.4" fill="#b81c1c"/>
<rect x="594.5" y="175.6" width="2" height="7.4" fill="#f00808"/>
<line x1="600.5" y1="168.8" x2="600.5" y2="182.6" stroke="#555" stroke-width="1"/>
<rect x="599" y="173.0" width="3" height="9.6" fill="#2c962c"/>
<rect x="599.5" y="173.5" width="2" height="8.6" fill="#00ee00"/>
<line x1="604.5" y1="166.7" x2="604.5" y2="176.2" stroke="#555" stroke-width="1"/>
<rect x="603" y="166.7" width="3" height="9.5" fill="#2c962c"/>
<rect x="603.5" y="167.2" width="2" height="8.5" fill="#00ee00"/>
<line x1="608.5" y1="121.2" x2="608.5" y2="171.4" stroke="#555" stroke-width="1"/>
<rect x="607" y="121.2" width="3" height="50.2" fill="#2c962c"/>
<rect x="607.5" y="121.7" width="2" height="49.2" fill="#00ee00"/>
<line x1="613.5" y1="104.3" x2="613.5" y2="131.8" stroke="#555" stroke-width="1"/>
<rect x="612" y="116.0" width="3" height="2.2" fill="#b81c1c"/>
<rect x="612.5" y="116.5" width="2" height="1.2" fill="#f00808"/>
<line x1="617.5" y1="108.5" x2="617.5" y2="133.9" stroke="#555" stroke-width="1"/>
<rect x="616" y="113.8" width="3" height="8.5" fill="#2c962c"/>
<rect x="616.5" y="114.3" width="2" height="7.5" fill="#00ee00"/>
<line x1="621.5" y1="111.7" x2="621.5" y2="133.9" stroke="#555" stroke-width="1"/>
<rect x="620" y="117.9" width="3" height="1.2" fill="#555"/>
<line x1="626.5" y1="107.5" x2="626.5" y2="128.6" stroke="#555" stroke-width="1"/>
<rect x="625" y="121.2" width="3" height="2.2" fill="#b81c1c"/>
<rect x="625.5" y="121.7" width="2" height="1.2" fill="#f00808"/>
<line x1="630.5" y1="109.6" x2="630.5" y2="124.4" stroke="#555" stroke-width="1"/>
<rect x="629" y="116.0" width="3" height="6.3" fill="#2c962c"/>
<rect x="629.5" y="116.5" width="2" height="5.3" fill="#00ee00"/>
<line x1="634.5" y1="103.3" x2="634.5" y2="119.1" stroke="#555" stroke-width="1"/>
<rect x="633" y="110.0" width="3" height="2.8" fill="#2c962c"/>
<rect x="633.5" y="110.5" width="2" height="1.8" fill="#00ee00"/>
<line x1="638.5" y1="100.1" x2="638.5" y2="124.4" stroke="#555" stroke-width="1"/>
<rect x="637" y="114.9" width="3" height="9.5" fill="#b81c1c"/>
<rect x="637.5" y="115.4" width="2" height="8.5" fill="#f00808"/>
<line x1="643.5" y1="109.6" x2="643.5" y2="123.3" stroke="#555" stroke-width="1"/>
<rect x="642" y="113.8" width="3" height="9.5" fill="#2c962c"/>
<rect x="642.5" y="114.3" width="2" height="8.5" fill="#00ee00"/>
<line x1="647.5" y1="106.4" x2="647.5" y2="141.3" stroke="#555" stroke-width="1"/>
<rect x="646" y="112.1" width="3" height="29.2" fill="#b81c1c"/>
<rect x="646.5" y="112.6" width="2" height="28.2" fill="#f00808"/>
<line x1="651.5" y1="116.0" x2="651.5" y2="153.0" stroke="#555" stroke-width="1"/>
<rect x="650" y="130.8" width="3" height="22.2" fill="#2c962c"/>
<rect x="650.5" y="131.3" width="2" height="21.2" fill="#00ee00"/>
<line x1="656.5" y1="112.8" x2="656.5" y2="130.3" stroke="#555" stroke-width="1"/>
<rect x="655" y="121.9" width="3" height="8.4" fill="#2c962c"/>
<rect x="655.5" y="122.4" width="2" height="7.4" fill="#00ee00"/>
<line x1="660.5" y1="108.5" x2="660.5" y2="124.4" stroke="#555" stroke-width="1"/>
<rect x="659" y="119.1" width="3" height="5.3" fill="#b81c1c"/>
<rect x="659.5" y="119.6" width="2" height="4.3" fill="#f00808"/>
<line x1="664.5" y1="118.7" x2="664.5" y2="145.6" stroke="#555" stroke-width="1"/>
<rect x="663" y="118.7" width="3" height="14.2" fill="#b81c1c"/>
<rect x="663.5" y="119.2" width="2" height="13.2" fill="#f00808"/>
<line x1="669.5" y1="124.4" x2="669.5" y2="136.0" stroke="#555" stroke-width="1"/>
<rect x="668" y="128.2" width="3" height="5.7" fill="#2c962c"/>
<rect x="668.5" y="128.7" width="2" height="4.7" fill="#00ee00"/>
<line x1="673.5" y1="109.2" x2="673.5" y2="134.6" stroke="#555" stroke-width="1"/>
<rect x="672" y="118.1" width="3" height="16.5" fill="#b81c1c"/>
<rect x="672.5" y="118.6" width="2" height="15.5" fill="#f00808"/>
<line x1="677.5" y1="111.9" x2="677.5" y2="134.1" stroke="#555" stroke-width="1"/>
<rect x="676" y="128.4" width="3" height="3.6" fill="#2c962c"/>
<rect x="676.5" y="128.9" width="2" height="2.6" fill="#00ee00"/>
<line x1="682.5" y1="128.4" x2="682.5" y2="141.5" stroke="#555" stroke-width="1"/>
<rect x="681" y="130.5" width="3" height="8.9" fill="#2c962c"/>
<rect x="681.5" y="131.0" width="2" height="7.9" fill="#00ee00"/>
<line x1="686.5" y1="117.8" x2="686.5" y2="134.5" stroke="#555" stroke-width="1"/>
<rect x="685" y="132.0" width="3" height="2.5" fill="#b81c1c"/>
<rect x="685.5" y="132.5" width="2" height="1.5" fill="#f00808"/>
<line x1="690.5" y1="112.3" x2="690.5" y2="133.0" stroke="#555" stroke-width="1"/>
<rect x="689" y="117.8" width="3" height="11.0" fill="#2c962c"/>
<rect x="689.5" y="118.3" width="2" height="10.0" fill="#00ee00"/>
<line x1="694.5" y1="113.0" x2="694.5" y2="135.2" stroke="#555" stroke-width="1"/>
<rect x="693" y="117.2" width="3" height="18.0" fill="#2c962c"/>
<rect x="693.5" y="117.7" width="2" height="17.0" fill="#00ee00"/>
<line x1="699.5" y1="108.1" x2="699.5" y2="122.5" stroke="#555" stroke-width="1"/>
<rect x="698" y="110.8" width="3" height="11.7" fill="#b81c1c"/>
<rect x="698.5" y="111.3" width="2" height="10.7" fill="#f00808"/>
<line x1="703.5" y1="106.0" x2="703.5" y2="116.1" stroke="#555" stroke-width="1"/>
<rect x="702" y="114.1" width="3" height="1.2" fill="#555"/>
<line x1="707.5" y1="109.8" x2="707.5" y2="123.5" stroke="#555" stroke-width="1"/>
<rect x="706" y="111.9" width="3" height="10.6" fill="#b81c1c"/>
<rect x="706.5" y="112.4" width="2" height="9.6" fill="#f00808"/>
<line x1="712.5" y1="91.2" x2="712.5" y2="130.5" stroke="#555" stroke-width="1"/>
<rect x="711" y="91.2" width="3" height="34.4" fill="#b81c1c"/>
<rect x="711.5" y="91.7" width="2" height="33.4" fill="#f00808"/>
<line x1="716.5" y1="102.4" x2="716.5" y2="114.0" stroke="#555" stroke-width="1"/>
<rect x="715" y="110.2" width="3" height="3.8" fill="#2c962c"/>
<rect x="715.5" y="110.7" width="2" height="2.8" fill="#00ee00"/>
<line x1="720.5" y1="91.2" x2="720.5" y2="109.8" stroke="#555" stroke-width="1"/>
<rect x="719" y="91.2" width="3" height="18.6" fill="#2c962c"/>
<rect x="719.5" y="91.7" width="2" height="17.6" fill="#00ee00"/>
<line x1="725.5" y1="78.1" x2="725.5" y2="92.9" stroke="#555" stroke-width="1"/>
<rect x="724" y="90.7" width="3" height="1.2" fill="#555"/>
<line x1="729.5" y1="88.2" x2="729.5" y2="103.4" stroke="#555" stroke-width="1"/>
<rect x="728" y="93.3" width="3" height="10.1" fill="#b81c1c"/>
<rect x="728.5" y="93.8" width="2" height="9.1" fill="#f00808"/>
<line x1="733.5" y1="72.1" x2="733.5" y2="96.7" stroke="#555" stroke-width="1"/>
<rect x="732" y="84.8" width="3" height="11.9" fill="#2c962c"/>
<rect x="732.5" y="85.3" width="2" height="10.9" fill="#00ee00"/>
<line x1="737.5" y1="76.0" x2="737.5" y2="85.5" stroke="#555" stroke-width="1"/>
<rect x="736" y="84.0" width="3" height="2.2" fill="#2c962c"/>
<rect x="736.5" y="84.5" width="2" height="1.2" fill="#00ee00"/>
<line x1="742.5" y1="72.1" x2="742.5" y2="88.6" stroke="#555" stroke-width="1"/>
<rect x="741" y="77.0" width="3" height="6.3" fill="#b81c1c"/>
<rect x="741.5" y="77.5" width="2" height="5.3" fill="#f00808"/>
<line x1="746.5" y1="73.8" x2="746.5" y2="86.1" stroke="#555" stroke-width="1"/>
<rect x="745" y="81.9" width="3" height="2.2" fill="#b81c1c"/>
<rect x="745.5" y="82.4" width="2" height="1.2" fill="#f00808"/>
<line x1="750.5" y1="82.3" x2="750.5" y2="89.7" stroke="#555" stroke-width="1"/>
<rect x="749" y="84.1" width="3" height="1.2" fill="#555"/>
<line x1="755.5" y1="71.7" x2="755.5" y2="82.3" stroke="#555" stroke-width="1"/>
<rect x="754" y="81.2" width="3" height="2.2" fill="#b81c1c"/>
<rect x="754.5" y="81.7" width="2" height="1.2" fill="#f00808"/>
<line x1="759.5" y1="81.2" x2="759.5" y2="90.8" stroke="#555" stroke-width="1"/>
<rect x="758" y="83.3" width="3" height="4.3" fill="#b81c1c"/>
<rect x="758.5" y="83.8" width="2" height="3.3" fill="#f00808"/>
<line x1="763.5" y1="81.2" x2="763.5" y2="90.8" stroke="#555" stroke-width="1"/>
<rect x="762" y="84.8" width="3" height="2.8" fill="#b81c1c"/>
<rect x="762.5" y="85.3" width="2" height="1.8" fill="#f00808"/>
<line x1="768.5" y1="87.0" x2="768.5" y2="93.9" stroke="#555" stroke-width="1"/>
<rect x="767" y="87.0" width="3" height="6.9" fill="#b81c1c"/>
<rect x="767.5" y="87.5" width="2" height="5.9" fill="#f00808"/>
<line x1="772.5" y1="94.2" x2="772.5" y2="106.6" stroke="#555" stroke-width="1"/>
<rect x="771" y="94.2" width="3" height="10.9" fill="#b81c1c"/>
<rect x="771.5" y="94.7" width="2" height="9.9" fill="#f00808"/>
<line x1="776.5" y1="113.0" x2="776.5" y2="124.6" stroke="#555" stroke-width="1"/>
<rect x="775" y="114.2" width="3" height="9.8" fill="#b81c1c"/>
<rect x="775.5" y="114.7" width="2" height="8.8" fill="#f00808"/>
<line x1="780.5" y1="122.0" x2="780.5" y2="130.0" stroke="#555" stroke-width="1"/>
<rect x="779" y="124.0" width="3" height="4.0" fill="#b81c1c"/>
<rect x="779.5" y="124.5" width="2" height="3.0" fill="#f00808"/>
<line x1="785.5" y1="161.0" x2="785.5" y2="167.0" stroke="#555" stroke-width="1"/>
<rect x="784" y="164.8" width="3" height="2.2" fill="#b81c1c"/>
<rect x="784.5" y="165.3" width="2" height="1.2" fill="#f00808"/>
<line x1="789.5" y1="162.5" x2="789.5" y2="197.7" stroke="#555" stroke-width="1"/>
<rect x="788" y="166.0" width="3" height="9.5" fill="#b81c1c"/>
<rect x="788.5" y="166.5" width="2" height="8.5" fill="#f00808"/>
<line x1="793.5" y1="171.2" x2="793.5" y2="181.8" stroke="#555" stroke-width="1"/>
<rect x="792" y="175.5" width="3" height="6.3" fill="#b81c1c"/>
<rect x="792.5" y="176.0" width="2" height="5.3" fill="#f00808"/>
<line x1="798.5" y1="164.3" x2="798.5" y2="184.6" stroke="#555" stroke-width="1"/>
<rect x="797" y="164.3" width="3" height="20.3" fill="#2c962c"/>
<rect x="797.5" y="164.8" width="2" height="19.3" fill="#00ee00"/>
<line x1="802.5" y1="145.9" x2="802.5" y2="159.6" stroke="#555" stroke-width="1"/>
<rect x="801" y="145.9" width="3" height="13.7" fill="#2c962c"/>
<rect x="801.5" y="146.4" width="2" height="12.7" fill="#00ee00"/>
<line x1="806.5" y1="136.8" x2="806.5" y2="154.3" stroke="#555" stroke-width="1"/>
<rect x="805" y="145.2" width="3" height="9.1" fill="#b81c1c"/>
<rect x="805.5" y="145.7" width="2" height="8.1" fill="#f00808"/>
<line x1="811.5" y1="153.3" x2="811.5" y2="169.1" stroke="#555" stroke-width="1"/>
<rect x="810" y="157.1" width="3" height="12.0" fill="#b81c1c"/>
<rect x="810.5" y="157.6" width="2" height="11.0" fill="#f00808"/>
<line x1="815.5" y1="151.8" x2="815.5" y2="168.1" stroke="#555" stroke-width="1"/>
<rect x="814" y="152.8" width="3" height="15.3" fill="#b81c1c"/>
<rect x="814.5" y="153.3" width="2" height="14.3" fill="#f00808"/>
<line x1="819.5" y1="157.5" x2="819.5" y2="176.5" stroke="#555" stroke-width="1"/>
<rect x="818" y="162.1" width="3" height="5.5" fill="#2c962c"/>
<rect x="818.5" y="162.6" width="2" height="4.5" fill="#00ee00"/>
<line x1="823.5" y1="150.1" x2="823.5" y2="160.7" stroke="#555" stroke-width="1"/>
<rect x="822" y="152.8" width="3" height="7.9" fill="#b81c1c"/>
<rect x="822.5" y="153.3" width="2" height="6.9" fill="#f00808"/>
<line x1="828.5" y1="155.0" x2="828.5" y2="165.5" stroke="#555" stroke-width="1"/>
<rect x="827" y="164.3" width="3" height="2.2" fill="#b81c1c"/>
<rect x="827.5" y="164.8" width="2" height="1.2" fill="#f00808"/>
<line x1="832.5" y1="156.4" x2="832.5" y2="164.9" stroke="#555" stroke-width="1"/>
<rect x="831" y="157.9" width="3" height="5.5" fill="#2c962c"/>
<rect x="831.5" y="158.4" width="2" height="4.5" fill="#00ee00"/>
<line x1="836.5" y1="151.1" x2="836.5" y2="169.1" stroke="#555" stroke-width="1"/>
<rect x="835" y="157.1" width="3" height="3.6" fill="#b81c1c"/>
<rect x="835.5" y="157.6" width="2" height="2.6" fill="#f00808"/>
<line x1="841.5" y1="159.2" x2="841.5" y2="194.5" stroke="#555" stroke-width="1"/>
<rect x="840" y="159.2" width="3" height="35.3" fill="#b81c1c"/>
<rect x="840.5" y="159.7" width="2" height="34.3" fill="#f00808"/>
<line x1="845.5" y1="193.0" x2="845.5" y2="224.1" stroke="#555" stroke-width="1"/>
<rect x="844" y="193.0" width="3" height="19.9" fill="#2c962c"/>
<rect x="844.5" y="193.5" width="2" height="18.9" fill="#00ee00"/>
<line x1="849.5" y1="188.2" x2="849.5" y2="204.4" stroke="#555" stroke-width="1"/>
<rect x="848" y="192.4" width="3" height="12.0" fill="#b81c1c"/>
<rect x="848.5" y="192.9" width="2" height="11.0" fill="#f00808"/>
<line x1="854.5" y1="194.5" x2="854.5" y2="216.7" stroke="#555" stroke-width="1"/>
<rect x="853" y="204.0" width="3" height="2.5" fill="#2c962c"/>
<rect x="853.5" y="204.5" width="2" height="1.5" fill="#00ee00"/>
<line x1="858.5" y1="208.2" x2="858.5" y2="240.4" stroke="#555" stroke-width="1"/>
<rect x="857" y="208.2" width="3" height="32.2" fill="#b81c1c"/>
<rect x="857.5" y="208.7" width="2" height="31.2" fill="#f00808"/>
<line x1="862.5" y1="245.6" x2="862.5" y2="283.2" stroke="#555" stroke-width="1"/>
<rect x="861" y="245.6" width="3" height="26.4" fill="#b81c1c"/>
<rect x="861.5" y="246.1" width="2" height="25.4" fill="#f00808"/>
<line x1="867.5" y1="251.9" x2="867.5" y2="270.9" stroke="#555" stroke-width="1"/>
<rect x="866" y="251.9" width="3" height="16.9" fill="#2c962c"/>
<rect x="866.5" y="252.4" width="2" height="15.9" fill="#00ee00"/>
<line x1="871.5" y1="236.0" x2="871.5" y2="250.8" stroke="#555" stroke-width="1"/>
<rect x="870" y="241.3" width="3" height="8.1" fill="#2c962c"/>
<rect x="870.5" y="241.8" width="2" height="7.1" fill="#00ee00"/>
<line x1="875.5" y1="236.0" x2="875.5" y2="246.6" stroke="#555" stroke-width="1"/>
<rect x="874" y="239.2" width="3" height="4.7" fill="#b81c1c"/>
<rect x="874.5" y="239.7" width="2" height="3.7" fill="#f00808"/>
<line x1="879.5" y1="215.5" x2="879.5" y2="238.8" stroke="#555" stroke-width="1"/>
<rect x="878" y="215.5" width="3" height="23.3" fill="#2c962c"/>
<rect x="878.5" y="216.0" width="2" height="22.3" fill="#00ee00"/>
<line x1="884.5" y1="215.5" x2="884.5" y2="231.8" stroke="#555" stroke-width="1"/>
<rect x="883" y="215.5" width="3" height="16.3" fill="#b81c1c"/>
<rect x="883.5" y="216.0" width="2" height="15.3" fill="#f00808"/>
<line x1="888.5" y1="212.1" x2="888.5" y2="236.7" stroke="#555" stroke-width="1"/>
<rect x="887" y="218.5" width="3" height="13.9" fill="#2c962c"/>
<rect x="887.5" y="219.0" width="2" height="12.9" fill="#00ee00"/>
<line x1="892.5" y1="224.4" x2="892.5" y2="233.9" stroke="#555" stroke-width="1"/>
<rect x="891" y="231.8" width="3" height="2.2" fill="#b81c1c"/>
<rect x="891.5" y="232.3" width="2" height="1.2" fill="#f00808"/>
<line x1="897.5" y1="229.1" x2="897.5" y2="243.0" stroke="#555" stroke-width="1"/>
<rect x="896" y="233.3" width="3" height="7.6" fill="#b81c1c"/>
<rect x="896.5" y="233.8" width="2" height="6.6" fill="#f00808"/>
<line x1="901.5" y1="237.1" x2="901.5" y2="255.1" stroke="#555" stroke-width="1"/>
<rect x="900" y="240.3" width="3" height="7.4" fill="#b81c1c"/>
<rect x="900.5" y="240.8" width="2" height="6.4" fill="#f00808"/>
<line x1="905.5" y1="239.2" x2="905.5" y2="274.1" stroke="#555" stroke-width="1"/>
<rect x="904" y="243.0" width="3" height="29.0" fill="#b81c1c"/>
<rect x="904.5" y="243.5" width="2" height="28.0" fill="#f00808"/>
<line x1="910.5" y1="226.9" x2="910.5" y2="260.4" stroke="#555" stroke-width="1"/>
<rect x="909" y="233.3" width="3" height="27.1" fill="#b81c1c"/>
<rect x="909.5" y="233.8" width="2" height="26.1" fill="#f00808"/>
<line x1="914.5" y1="255.1" x2="914.5" y2="269.9" stroke="#555" stroke-width="1"/>
<rect x="913" y="263.1" width="3" height="4.7" fill="#b81c1c"/>
<rect x="913.5" y="263.6" width="2" height="3.7" fill="#f00808"/>
<line x1="918.5" y1="251.9" x2="918.5" y2="264.6" stroke="#555" stroke-width="1"/>
<rect x="917" y="257.2" width="3" height="2.2" fill="#b81c1c"/>
<rect x="917.5" y="257.7" width="2" height="1.2" fill="#f00808"/>
<line x1="922.5" y1="245.1" x2="922.5" y2="257.8" stroke="#555" stroke-width="1"/>
<rect x="921" y="245.1" width="3" height="12.7" fill="#2c962c"/>
<rect x="921.5" y="245.6" width="2" height="11.7" fill="#00ee00"/>
<line x1="927.5" y1="237.1" x2="927.5" y2="250.8" stroke="#555" stroke-width="1"/>
<rect x="926" y="241.3" width="3" height="7.4" fill="#b81c1c"/>
<rect x="926.5" y="241.8" width="2" height="6.4" fill="#f00808"/>
<line x1="931.5" y1="237.2" x2="931.5" y2="255.6" stroke="#555" stroke-width="1"/>
<rect x="930" y="247.2" width="3" height="6.3" fill="#2c962c"/>
<rect x="930.5" y="247.7" width="2" height="5.3" fill="#00ee00"/>
<line x1="935.5" y1="255.6" x2="935.5" y2="275.7" stroke="#555" stroke-width="1"/>
<rect x="934" y="262.0" width="3" height="8.4" fill="#b81c1c"/>
<rect x="934.5" y="262.5" width="2" height="7.4" fill="#f00808"/>
<line x1="940.5" y1="258.8" x2="940.5" y2="269.4" stroke="#555" stroke-width="1"/>
<rect x="939" y="266.8" width="3" height="2.6" fill="#2c962c"/>
<rect x="939.5" y="267.3" width="2" height="1.6" fill="#00ee00"/>
<line x1="944.5" y1="237.2" x2="944.5" y2="265.6" stroke="#555" stroke-width="1"/>
<rect x="943" y="243.0" width="3" height="22.6" fill="#2c962c"/>
<rect x="943.5" y="243.5" width="2" height="21.6" fill="#00ee00"/>
<line x1="948.5" y1="238.7" x2="948.5" y2="246.1" stroke="#555" stroke-width="1"/>
<rect x="947" y="242.9" width="3" height="1.2" fill="#555"/>
<line x1="953.5" y1="238.7" x2="953.5" y2="251.4" stroke="#555" stroke-width="1"/>
<rect x="952" y="243.0" width="3" height="3.1" fill="#2c962c"/>
<rect x="952.5" y="243.5" width="2" height="2.1" fill="#00ee00"/>
<line x1="957.5" y1="248.2" x2="957.5" y2="259.2" stroke="#555" stroke-width="1"/>
<rect x="956" y="249.3" width="3" height="2.2" fill="#2c962c"/>
<rect x="956.5" y="249.8" width="2" height="1.2" fill="#00ee00"/>
<line x1="961.5" y1="248.2" x2="961.5" y2="264.1" stroke="#555" stroke-width="1"/>
<rect x="960" y="248.2" width="3" height="5.3" fill="#2c962c"/>
<rect x="960.5" y="248.7" width="2" height="4.3" fill="#00ee00"/>
<line x1="965.5" y1="221.8" x2="965.5" y2="244.0" stroke="#555" stroke-width="1"/>
<rect x="964" y="231.3" width="3" height="11.7" fill="#2c962c"/>
<rect x="964.5" y="231.8" width="2" height="10.7" fill="#00ee00"/>
<line x1="970.5" y1="235.6" x2="970.5" y2="249.3" stroke="#555" stroke-width="1"/>
<rect x="969" y="235.6" width="3" height="8.4" fill="#b81c1c"/>
<rect x="969.5" y="236.1" width="2" height="7.4" fill="#f00808"/>
<line x1="974.5" y1="220.3" x2="974.5" y2="239.8" stroke="#555" stroke-width="1"/>
<rect x="973" y="232.4" width="3" height="7.4" fill="#2c962c"/>
<rect x="973.5" y="232.9" width="2" height="6.4" fill="#00ee00"/>
<line x1="978.5" y1="231.3" x2="978.5" y2="236.6" stroke="#555" stroke-width="1"/>
<rect x="977" y="231.3" width="3" height="5.3" fill="#b81c1c"/>
<rect x="977.5" y="231.8" width="2" height="4.3" fill="#f00808"/>
<line x1="983.5" y1="235.6" x2="983.5" y2="247.2" stroke="#555" stroke-width="1"/>
<rect x="982" y="235.6" width="3" height="11.6" fill="#2c962c"/>
<rect x="982.5" y="236.1" width="2" height="10.6" fill="#00ee00"/>
<line x1="987.5" y1="241.9" x2="987.5" y2="269.4" stroke="#555" stroke-width="1"/>
<rect x="986" y="241.9" width="3" height="5.3" fill="#2c962c"/>
<rect x="986.5" y="242.4" width="2" height="4.3" fill="#00ee00"/>
<line x1="991.5" y1="185.9" x2="991.5" y2="218.2" stroke="#555" stroke-width="1"/>
<rect x="990" y="199.2" width="3" height="19.0" fill="#2c962c"/>
<rect x="990.5" y="199.7" width="2" height="18.0" fill="#00ee00"/>
<polygon points="14.5,214.5 20.0,214.5 23.6,221.4 28.1,223.6 33.6,226.3 36.3,224.5 43.5,223.6 49.9,222.1 58.0,216.7 62.5,216.3 68.9,211.8 75.0,204.9 79.7,210.0 84.5,213.0 92.6,229.9 98.8,239.0 102.1,243.5 110.3,262.5 119.8,289.7 128.0,303.3 138.8,333.2 147.0,348.2 152.4,350.9 161.5,351.3 167.4,350.9 174.2,342.7 182.2,340.8 191.8,340.8 205.3,338.1 217.6,335.3 229.8,333.4 233.9,337.5 242.0,338.1 248.8,335.3 254.3,327.2 262.5,320.4 273.1,319.3 282.6,313.0 290.0,308.7 298.4,306.2 305.0,303.6 311.3,298.1 316.6,289.2 320.9,280.8 323.0,275.5 327.2,271.2 332.5,272.3 341.0,269.1 349.4,266.4 362.1,263.8 370.6,265.9 379.0,265.9 385.3,265.4 391.6,271.3 400.1,271.7 406.4,271.3 412.8,277.2 420.2,276.6 428.6,278.1 433.9,277.7 437.1,272.4 443.4,268.2 449.8,256.5 454.0,247.0 460.3,238.2 469.8,223.4 478.3,212.9 484.6,208.6 495.2,200.2 502.6,198.7 510.0,194.3 518.4,190.2 524.8,181.1 530.1,168.5 535.0,162.1 541.1,155.0 549.6,148.6 562.3,132.8 570.8,126.4 578.2,120.7 587.7,118.6 595.0,120.2 604.5,124.4 608.7,121.2 616.1,110.7 622.5,103.3 633.1,95.9 643.6,92.7 656.3,89.5 664.8,89.1 675.3,89.1 682.7,95.0 690.1,107.7 695.4,107.2 703.8,108.7 714.4,108.7 720.8,103.4 728.2,90.8 735.6,81.2 744.0,73.8 750.6,67.5 761.1,66.4 769.6,67.5 780.2,67.1 785.5,61.1 791.8,47.4 799.2,42.5 806.6,43.8 810.0,44.8 817.3,47.3 826.9,58.1 834.2,70.2 843.8,87.1 853.5,108.9 858.3,115.4 862.0,110.6 866.8,114.9 875.3,115.4 882.5,118.5 889.8,129.4 897.0,135.5 906.7,148.8 913.9,160.8 921.2,185.0 926.3,191.1 932.7,203.8 940.1,214.8 947.5,215.5 962.3,218.2 972.9,223.9 981.3,226.0 987.7,222.9 991.9,216.5 991.9,276.8 987.7,273.6 979.2,271.5 970.8,273.2 964.4,274.7 955.9,273.6 947.5,277.8 941.1,281.0 932.7,282.1 923.0,285.3 919.8,291.0 914.5,294.2 907.1,288.9 900.8,281.5 892.3,276.2 881.7,272.0 873.3,264.6 866.9,256.1 862.7,243.4 859.5,224.4 856.3,215.5 851.9,214.2 843.4,212.5 838.2,209.3 828.6,208.2 818.1,201.9 809.6,192.4 801.1,182.9 794.8,174.4 787.6,156.3 782.3,141.5 777.0,130.9 769.6,135.2 761.1,141.5 752.7,145.7 741.9,150.0 733.4,148.9 722.9,146.8 715.5,141.5 701.7,141.5 689.0,141.9 682.7,158.4 676.3,173.2 675.0,176.2 662.7,176.8 650.0,179.4 637.3,184.7 626.7,192.1 618.3,196.3 610.7,193.6 605.9,198.5 599.8,205.7 592.6,211.3 585.3,221.4 575.7,238.3 568.4,250.4 561.2,257.7 549.1,266.9 539.4,275.8 529.8,279.4 522.5,279.9 515.3,292.7 508.0,308.4 498.3,327.8 493.5,332.6 483.8,335.0 473.0,339.4 459.7,336.2 450.0,334.5 443.4,330.5 432.9,326.3 422.3,325.2 407.5,316.8 401.1,316.8 391.6,321.0 385.0,329.4 378.0,335.7 366.3,347.4 353.6,356.5 341.0,363.2 332.5,370.0 329.9,378.8 325.0,385.6 316.8,389.7 311.4,391.1 297.8,400.6 286.9,407.4 277.4,410.9 273.3,416.9 263.8,444.1 257.0,459.1 243.4,461.8 240.0,464.3 234.0,464.8 229.8,467.5 225.6,466.2 212.9,466.9 194.9,467.5 189.6,466.9 179.0,460.5 176.9,456.3 174.8,450.0 170.2,433.0 159.8,424.7 151.5,417.3 144.0,424.7 139.0,427.6 130.7,432.6 123.2,438.0 114.1,440.0 103.3,433.1 96.6,423.9 90.0,414.8 81.5,400.0 75.7,383.0 70.7,366.4 67.9,358.1 62.4,341.5 53.3,324.9 37.0,296.5 34.5,291.5 31.7,285.7 27.5,282.3 23.6,281.5 20.0,283.3 14.5,283.3" fill="rgba(247,163,74,0.21)" stroke="none"/>
<polyline points="14.5,214.5 20.0,214.5 23.6,221.4 28.1,223.6 33.6,226.3 36.3,224.5 43.5,223.6 49.9,222.1 58.0,216.7 62.5,216.3 68.9,211.8 75.0,204.9 79.7,210.0 84.5,213.0 92.6,229.9 98.8,239.0 102.1,243.5 110.3,262.5 119.8,289.7 128.0,303.3 138.8,333.2 147.0,348.2 152.4,350.9 161.5,351.3 167.4,350.9 174.2,342.7 182.2,340.8 191.8,340.8 205.3,338.1 217.6,335.3 229.8,333.4 233.9,337.5 242.0,338.1 248.8,335.3 254.3,327.2 262.5,320.4 273.1,319.3 282.6,313.0 290.0,308.7 298.4,306.2 305.0,303.6 311.3,298.1 316.6,289.2 320.9,280.8 323.0,275.5 327.2,271.2 332.5,272.3 341.0,269.1 349.4,266.4 362.1,263.8 370.6,265.9 379.0,265.9 385.3,265.4 391.6,271.3 400.1,271.7 406.4,271.3 412.8,277.2 420.2,276.6 428.6,278.1 433.9,277.7 437.1,272.4 443.4,268.2 449.8,256.5 454.0,247.0 460.3,238.2 469.8,223.4 478.3,212.9 484.6,208.6 495.2,200.2 502.6,198.7 510.0,194.3 518.4,190.2 524.8,181.1 530.1,168.5 535.0,162.1 541.1,155.0 549.6,148.6 562.3,132.8 570.8,126.4 578.2,120.7 587.7,118.6 595.0,120.2 604.5,124.4 608.7,121.2 616.1,110.7 622.5,103.3 633.1,95.9 643.6,92.7 656.3,89.5 664.8,89.1 675.3,89.1 682.7,95.0 690.1,107.7 695.4,107.2 703.8,108.7 714.4,108.7 720.8,103.4 728.2,90.8 735.6,81.2 744.0,73.8 750.6,67.5 761.1,66.4 769.6,67.5 780.2,67.1 785.5,61.1 791.8,47.4 799.2,42.5 806.6,43.8 810.0,44.8 817.3,47.3 826.9,58.1 834.2,70.2 843.8,87.1 853.5,108.9 858.3,115.4 862.0,110.6 866.8,114.9 875.3,115.4 882.5,118.5 889.8,129.4 897.0,135.5 906.7,148.8 913.9,160.8 921.2,185.0 926.3,191.1 932.7,203.8 940.1,214.8 947.5,215.5 962.3,218.2 972.9,223.9 981.3,226.0 987.7,222.9 991.9,216.5" fill="none" stroke="#f5a540" stroke-width="1"/>
<polyline points="14.5,283.3 20.0,283.3 23.6,281.5 27.5,282.3 31.7,285.7 34.5,291.5 37.0,296.5 53.3,324.9 62.4,341.5 67.9,358.1 70.7,366.4 75.7,383.0 81.5,400.0 90.0,414.8 96.6,423.9 103.3,433.1 114.1,440.0 123.2,438.0 130.7,432.6 139.0,427.6 144.0,424.7 151.5,417.3 159.8,424.7 170.2,433.0 174.8,450.0 176.9,456.3 179.0,460.5 189.6,466.9 194.9,467.5 212.9,466.9 225.6,466.2 229.8,467.5 234.0,464.8 240.0,464.3 243.4,461.8 257.0,459.1 263.8,444.1 273.3,416.9 277.4,410.9 286.9,407.4 297.8,400.6 311.4,391.1 316.8,389.7 325.0,385.6 329.9,378.8 332.5,370.0 341.0,363.2 353.6,356.5 366.3,347.4 378.0,335.7 385.0,329.4 391.6,321.0 401.1,316.8 407.5,316.8 422.3,325.2 432.9,326.3 443.4,330.5 450.0,334.5 459.7,336.2 473.0,339.4 483.8,335.0 493.5,332.6 498.3,327.8 508.0,308.4 515.3,292.7 522.5,279.9 529.8,279.4 539.4,275.8 549.1,266.9 561.2,257.7 568.4,250.4 575.7,238.3 585.3,221.4 592.6,211.3 599.8,205.7 605.9,198.5 610.7,193.6 618.3,196.3 626.7,192.1 637.3,184.7 650.0,179.4 662.7,176.8 675.0,176.2 676.3,173.2 682.7,158.4 689.0,141.9 701.7,141.5 715.5,141.5 722.9,146.8 733.4,148.9 741.9,150.0 752.7,145.7 761.1,141.5 769.6,135.2 777.0,130.9 782.3,141.5 787.6,156.3 794.8,174.4 801.1,182.9 809.6,192.4 818.1,201.9 828.6,208.2 838.2,209.3 843.4,212.5 851.9,214.2 856.3,215.5 859.5,224.4 862.7,243.4 866.9,256.1 873.3,264.6 881.7,272.0 892.3,276.2 900.8,281.5 907.1,288.9 914.5,294.2 919.8,291.0 923.0,285.3 932.7,282.1 941.1,281.0 947.5,277.8 955.9,273.6 964.4,274.7 970.8,273.2 979.2,271.5 987.7,273.6 991.9,276.8" fill="none" stroke="#f5a540" stroke-width="1"/>
<ellipse cx="771.9" cy="117.6" rx="9.2" ry="21.5" fill="rgba(210,210,232,0.5)" stroke="none"/>
<ellipse cx="779.8" cy="147.7" rx="8.8" ry="31.4" fill="rgba(210,210,232,0.5)" stroke="none"/>
<ellipse cx="991.1" cy="231.9" rx="8.1" ry="21.3" fill="rgba(210,210,232,0.5)" stroke="none"/>
<polyline points="19.4,217.2 28.1,217.2 33.6,227.2 41.7,262.5 52.6,263.4 59.8,273.4 62.7,273.4 72.2,306.0 79.0,323.7 84.5,326.4 94.0,326.4 108.9,347.4 155.2,347.4 160.4,349.6 164.9,351.1 169.4,356.4 173.9,375.3 178.5,389.5 191.3,390.0" fill="none" stroke="#ffa8a8" stroke-width="1.1"/>
<polyline points="785.3,104.4 791.4,111.6 836.6,111.8 841.4,117.8 845.0,148.8 854.7,148.8 858.3,160.8 862.0,191.0 931.6,192.2 939.0,202.1 987.7,202.1" fill="none" stroke="#ffa8a8" stroke-width="1.1"/>
<polyline points="195.3,469.4 200.2,445.1 224.5,443.6 234.0,428.4 251.6,427.8 257.5,410.0 264.1,399.4 273.3,398.0 277.4,394.4 294.9,394.4 299.9,390.6 307.3,390.6 313.2,374.8 320.0,348.2 323.6,325.3 445.6,325.2 453.6,302.4 458.5,300.7 469.3,300.7 480.2,291.5 501.2,289.6 509.2,260.1 522.5,260.1 531.7,225.8 558.3,225.8 563.6,222.1 570.4,222.1 574.5,203.3 578.1,203.3 587.8,193.6 608.3,193.6 613.0,190.4 625.7,190.0 634.1,176.6 699.6,176.4 703.8,173.6 717.6,173.2 726.0,152.1 733.4,150.4 738.7,143.6 752.7,136.2 755.9,130.9 774.9,131.4" fill="none" stroke="#55ee55" stroke-width="1.1"/>
<polyline points="19.5,248.5 31.3,255.7 44.6,268.4 52.0,272.0 59.4,276.8 65.0,281.5 70.7,288.1 82.0,304.0 93.4,322.2 104.0,342.6 108.5,350.0 119.8,363.1 129.0,372.4 136.5,379.0 144.8,382.4 152.3,384.0 160.0,388.2 169.5,391.8 175.9,397.1 183.3,402.0 190.4,404.1 199.9,402.0 210.8,402.4 224.4,400.5 238.0,402.0 256.6,393.1 265.0,380.6 272.0,370.5 278.3,363.1 289.9,356.5 303.2,349.0 313.2,343.2 320.0,337.4 325.0,331.0 330.0,324.8 335.0,320.0 340.0,316.5 350.0,312.3 356.6,309.8 366.6,305.7 371.6,304.2 376.6,301.5 386.6,296.5 390.6,295.6 396.9,294.6 405.4,294.2 422.3,301.4 432.9,301.4 443.4,298.4 451.9,293.5 458.5,288.6 471.8,281.8 486.3,271.0 497.2,262.4 509.0,247.9 522.5,234.3 531.6,225.3 546.1,210.8 570.0,187.2 581.3,173.0 589.8,166.0 600.0,163.4 604.5,161.4 608.7,157.2 616.1,153.0 626.7,145.6 639.4,138.2 650.0,135.0 658.4,133.5 670.0,133.0 680.6,129.9 690.1,124.6 712.3,124.6 727.1,121.4 735.6,117.2 744.0,111.9 759.0,103.4 769.6,101.3 778.1,99.6 787.0,102.5 795.0,108.8 805.0,114.5 815.7,122.9 825.0,131.0 834.5,139.8 843.0,148.5 851.5,159.6 862.7,178.4 870.0,187.4 876.3,192.2 882.7,195.3 888.0,200.1 893.3,205.4 898.6,208.6 902.8,213.9 908.1,220.7 914.4,227.6 920.8,234.5 926.1,238.7 930.0,241.4 940.1,248.5 947.5,247.8 953.8,246.1 962.3,247.8 972.9,249.3 985.6,249.3 991.9,245.1" fill="none" stroke="#ff0000" stroke-width="1.15" stroke-linejoin="round"/>
<line x1="711.9" y1="71" x2="1121" y2="71" stroke="#ff0000" stroke-width="2"/>
<text x="717.5" y="68" font-family="Liberation Sans, sans-serif" font-size="12" fill="#ff0000">97.56</text>
<line x1="746" y1="107.5" x2="1121" y2="107.5" stroke="#0000ff" stroke-width="1"/>
<line x1="749.8" y1="124.5" x2="1121" y2="124.5" stroke="#0000ff" stroke-width="1"/>
<line x1="749.8" y1="136.5" x2="1121" y2="136.5" stroke="#c00000" stroke-width="1"/>
<line x1="964.8" y1="241.5" x2="1121" y2="241.5" stroke="#0000ff" stroke-width="1"/>
<ellipse cx="771.9" cy="117.6" rx="9.2" ry="21.5" fill="none" stroke="#3030ff" stroke-width="1.3"/>
<ellipse cx="779.8" cy="147.7" rx="8.8" ry="31.4" fill="none" stroke="#3030ff" stroke-width="1.3"/>
<ellipse cx="991.1" cy="231.9" rx="8.1" ry="21.3" fill="none" stroke="#3030ff" stroke-width="1.3"/>
<text x="751" y="104.8" font-family="Liberation Sans, sans-serif" font-size="12" fill="#2020ff">94.81</text>
<text x="755.3" y="121.7" font-family="Liberation Sans, sans-serif" font-size="12" fill="#2020ff">93.56</text>
<text x="755.3" y="133.8" font-family="Liberation Sans, sans-serif" font-size="12" fill="#c01010">92.69</text>
<text x="970.5" y="238.7" font-family="Liberation Sans, sans-serif" font-size="12" fill="#2020ff">84.84</text>
<line x1="805" y1="289.3" x2="1087" y2="260" stroke="#2a8a2a" stroke-width="1.2"/>
<rect x="17" y="636.6" width="3" height="3.4" fill="#3cb83c"/>
<rect x="21" y="636.1" width="3" height="3.9" fill="#ff3333"/>
<rect x="26" y="637.4" width="3" height="2.6" fill="#ff3333"/>
<rect x="30" y="637.4" width="3" height="2.6" fill="#ff3333"/>
<rect x="34" y="636.6" width="3" height="3.4" fill="#ff3333"/>
<rect x="38" y="634.4" width="3" height="5.6" fill="#ff3333"/>
<rect x="43" y="635.4" width="3" height="4.6" fill="#3cb83c"/>
<rect x="47" y="630.6" width="3" height="9.4" fill="#3cb83c"/>
<rect x="51" y="637.1" width="3" height="2.9" fill="#ff3333"/>
<rect x="56" y="637.1" width="3" height="2.9" fill="#ff3333"/>
<rect x="60" y="636.6" width="3" height="3.4" fill="#3cb83c"/>
<rect x="64" y="635.4" width="3" height="4.6" fill="#ff3333"/>
<rect x="69" y="635.7" width="3" height="4.3" fill="#ff3333"/>
<rect x="73" y="635.7" width="3" height="4.3" fill="#ff3333"/>
<rect x="77" y="635.4" width="3" height="4.6" fill="#ff3333"/>
<rect x="81" y="635.7" width="3" height="4.3" fill="#ff3333"/>
<rect x="86" y="635.7" width="3" height="4.3" fill="#3cb83c"/>
<rect x="90" y="635.4" width="3" height="4.6" fill="#3cb83c"/>
<rect x="94" y="635.4" width="3" height="4.6" fill="#ff3333"/>
<rect x="99" y="636.6" width="3" height="3.4" fill="#ff3333"/>
<rect x="103" y="635.7" width="3" height="4.3" fill="#ff3333"/>
<rect x="107" y="636.6" width="3" height="3.4" fill="#ff3333"/>
<rect x="112" y="637.1" width="3" height="2.9" fill="#3cb83c"/>
<rect x="116" y="637.1" width="3" height="2.9" fill="#3cb83c"/>
<rect x="120" y="637.1" width="3" height="2.9" fill="#3cb83c"/>
<rect x="124" y="636.6" width="3" height="3.4" fill="#3cb83c"/>
<rect x="129" y="636.6" width="3" height="3.4" fill="#ff3333"/>
<rect x="133" y="636.6" width="3" height="3.4" fill="#ff3333"/>
<rect x="137" y="637.4" width="3" height="2.6" fill="#3cb83c"/>
<rect x="142" y="635.7" width="3" height="4.3" fill="#3cb83c"/>
<rect x="146" y="625.8" width="3" height="14.2" fill="#3cb83c"/>
<rect x="150" y="627.5" width="3" height="12.5" fill="#ff3333"/>
<rect x="155" y="634.0" width="3" height="6.0" fill="#ff3333"/>
<rect x="159" y="634.9" width="3" height="5.1" fill="#3cb83c"/>
<rect x="163" y="636.6" width="3" height="3.4" fill="#3cb83c"/>
<rect x="168" y="636.6" width="3" height="3.4" fill="#ff3333"/>
<rect x="172" y="633.2" width="3" height="6.8" fill="#ff3333"/>
<rect x="176" y="635.7" width="3" height="4.3" fill="#3cb83c"/>
<rect x="180" y="637.4" width="3" height="2.6" fill="#3cb83c"/>
<rect x="185" y="637.1" width="3" height="2.9" fill="#3cb83c"/>
<rect x="189" y="637.1" width="3" height="2.9" fill="#3cb83c"/>
<rect x="193" y="637.4" width="3" height="2.6" fill="#3cb83c"/>
<rect x="198" y="637.4" width="3" height="2.6" fill="#3cb83c"/>
<rect x="202" y="636.6" width="3" height="3.4" fill="#ff3333"/>
<rect x="206" y="637.4" width="3" height="2.6" fill="#ff3333"/>
<rect x="211" y="638.3" width="3" height="1.7" fill="#3cb83c"/>
<rect x="215" y="637.8" width="3" height="2.2" fill="#3cb83c"/>
<rect x="219" y="637.4" width="3" height="2.6" fill="#ff3333"/>
<rect x="223" y="638.3" width="3" height="1.7" fill="#3cb83c"/>
<rect x="228" y="637.4" width="3" height="2.6" fill="#3cb83c"/>
<rect x="232" y="634.4" width="3" height="5.6" fill="#ff3333"/>
<rect x="236" y="636.6" width="3" height="3.4" fill="#ff3333"/>
<rect x="241" y="635.7" width="3" height="4.3" fill="#ff3333"/>
<rect x="245" y="637.8" width="3" height="2.2" fill="#3cb83c"/>
<rect x="249" y="634.9" width="3" height="5.1" fill="#3cb83c"/>
<rect x="254" y="632.6" width="3" height="7.4" fill="#3cb83c"/>
<rect x="258" y="637.4" width="3" height="2.6" fill="#3cb83c"/>
<rect x="262" y="636.6" width="3" height="3.4" fill="#3cb83c"/>
<rect x="266" y="634.4" width="3" height="5.6" fill="#3cb83c"/>
<rect x="271" y="635.7" width="3" height="4.3" fill="#ff3333"/>
<rect x="275" y="634.0" width="3" height="6.0" fill="#3cb83c"/>
<rect x="279" y="506.4" width="3" height="133.6" fill="#ff3333"/>
<rect x="284" y="636.1" width="3" height="3.9" fill="#3cb83c"/>
<rect x="288" y="634.9" width="3" height="5.1" fill="#ff3333"/>
<rect x="292" y="635.7" width="3" height="4.3" fill="#3cb83c"/>
<rect x="297" y="634.4" width="3" height="5.6" fill="#3cb83c"/>
<rect x="301" y="636.1" width="3" height="3.9" fill="#ff3333"/>
<rect x="305" y="637.1" width="3" height="2.9" fill="#3cb83c"/>
<rect x="309" y="634.9" width="3" height="5.1" fill="#3cb83c"/>
<rect x="314" y="631.5" width="3" height="8.5" fill="#3cb83c"/>
<rect x="318" y="635.4" width="3" height="4.6" fill="#3cb83c"/>
<rect x="322" y="631.5" width="3" height="8.5" fill="#3cb83c"/>
<rect x="327" y="631.5" width="3" height="8.5" fill="#ff3333"/>
<rect x="331" y="634.4" width="3" height="5.6" fill="#ff3333"/>
<rect x="335" y="636.6" width="3" height="3.4" fill="#3cb83c"/>
<rect x="340" y="637.4" width="3" height="2.6" fill="#3cb83c"/>
<rect x="344" y="637.4" width="3" height="2.6" fill="#ff3333"/>
<rect x="348" y="638.3" width="3" height="1.7" fill="#ff3333"/>
<rect x="353" y="637.4" width="3" height="2.6" fill="#3cb83c"/>
<rect x="357" y="636.6" width="3" height="3.4" fill="#3cb83c"/>
<rect x="361" y="638.3" width="3" height="1.7" fill="#ff3333"/>
<rect x="365" y="637.4" width="3" height="2.6" fill="#ff3333"/>
<rect x="370" y="636.6" width="3" height="3.4" fill="#ff3333"/>
<rect x="374" y="637.4" width="3" height="2.6" fill="#3cb83c"/>
<rect x="378" y="637.4" width="3" height="2.6" fill="#ff3333"/>
<rect x="383" y="638.3" width="3" height="1.7" fill="#3cb83c"/>
<rect x="387" y="637.4" width="3" height="2.6" fill="#ff3333"/>
<rect x="391" y="638.3" width="3" height="1.7" fill="#ff3333"/>
<rect x="396" y="635.7" width="3" height="4.3" fill="#3cb83c"/>
<rect x="400" y="635.7" width="3" height="4.3" fill="#3cb83c"/>
<rect x="404" y="636.6" width="3" height="3.4" fill="#ff3333"/>
<rect x="408" y="636.6" width="3" height="3.4" fill="#ff3333"/>
<rect x="413" y="637.4" width="3" height="2.6" fill="#ff3333"/>
<rect x="417" y="638.8" width="3" height="1.2" fill="#3cb83c"/>
<rect x="421" y="638.3" width="3" height="1.7" fill="#3cb83c"/>
<rect x="426" y="638.3" width="3" height="1.7" fill="#3cb83c"/>
<rect x="430" y="638.3" width="3" height="1.7" fill="#3cb83c"/>
<rect x="434" y="638.3" width="3" height="1.7" fill="#3cb83c"/>
<rect x="439" y="638.3" width="3" height="1.7" fill="#ff3333"/>
<rect x="443" y="638.3" width="3" height="1.7" fill="#3cb83c"/>
<rect x="447" y="637.4" width="3" height="2.6" fill="#3cb83c"/>
<rect x="451" y="637.4" width="3" height="2.6" fill="#ff3333"/>
<rect x="456" y="636.6" width="3" height="3.4" fill="#ff3333"/>
<rect x="460" y="637.4" width="3" height="2.6" fill="#ff3333"/>
<rect x="464" y="637.4" width="3" height="2.6" fill="#3cb83c"/>
<rect x="469" y="635.7" width="3" height="4.3" fill="#3cb83c"/>
<rect x="473" y="636.6" width="3" height="3.4" fill="#3cb83c"/>
<rect x="477" y="637.4" width="3" height="2.6" fill="#ff3333"/>
<rect x="482" y="637.4" width="3" height="2.6" fill="#3cb83c"/>
<rect x="486" y="637.4" width="3" height="2.6" fill="#ff3333"/>
<rect x="490" y="638.3" width="3" height="1.7" fill="#3cb83c"/>
<rect x="494" y="638.3" width="3" height="1.7" fill="#ff3333"/>
<rect x="499" y="637.8" width="3" height="2.2" fill="#3cb83c"/>
<rect x="503" y="636.6" width="3" height="3.4" fill="#3cb83c"/>
<rect x="507" y="637.8" width="3" height="2.2" fill="#3cb83c"/>
<rect x="512" y="638.3" width="3" height="1.7" fill="#ff3333"/>
<rect x="516" y="637.4" width="3" height="2.6" fill="#ff3333"/>
<rect x="520" y="637.4" width="3" height="2.6" fill="#ff3333"/>
<rect x="525" y="636.6" width="3" height="3.4" fill="#3cb83c"/>
<rect x="529" y="636.6" width="3" height="3.4" fill="#ff3333"/>
<rect x="533" y="637.8" width="3" height="2.2" fill="#ff3333"/>
<rect x="538" y="638.3" width="3" height="1.7" fill="#3cb83c"/>
<rect x="542" y="637.8" width="3" height="2.2" fill="#ff3333"/>
<rect x="546" y="633.2" width="3" height="6.8" fill="#3cb83c"/>
<rect x="550" y="637.4" width="3" height="2.6" fill="#3cb83c"/>
<rect x="555" y="637.4" width="3" height="2.6" fill="#3cb83c"/>
<rect x="559" y="635.7" width="3" height="4.3" fill="#3cb83c"/>
<rect x="563" y="637.4" width="3" height="2.6" fill="#ff3333"/>
<rect x="568" y="637.4" width="3" height="2.6" fill="#3cb83c"/>
<rect x="572" y="637.4" width="3" height="2.6" fill="#ff3333"/>
<rect x="576" y="637.4" width="3" height="2.6" fill="#ff3333"/>
<rect x="581" y="636.6" width="3" height="3.4" fill="#3cb83c"/>
<rect x="585" y="635.7" width="3" height="4.3" fill="#3cb83c"/>
<rect x="589" y="637.4" width="3" height="2.6" fill="#ff3333"/>
<rect x="593" y="625.8" width="3" height="14.2" fill="#ff3333"/>
<rect x="598" y="637.4" width="3" height="2.6" fill="#3cb83c"/>
<rect x="602" y="637.4" width="3" height="2.6" fill="#3cb83c"/>
<rect x="606" y="632.3" width="3" height="7.7" fill="#3cb83c"/>
<rect x="611" y="635.7" width="3" height="4.3" fill="#3cb83c"/>
<rect x="615" y="636.6" width="3" height="3.4" fill="#3cb83c"/>
<rect x="619" y="638.3" width="3" height="1.7" fill="#ff3333"/>
<rect x="624" y="638.3" width="3" height="1.7" fill="#ff3333"/>
<rect x="628" y="637.8" width="3" height="2.2" fill="#3cb83c"/>
<rect x="632" y="636.6" width="3" height="3.4" fill="#3cb83c"/>
<rect x="636" y="636.6" width="3" height="3.4" fill="#ff3333"/>
<rect x="641" y="637.4" width="3" height="2.6" fill="#3cb83c"/>
<rect x="645" y="636.6" width="3" height="3.4" fill="#ff3333"/>
<rect x="649" y="633.2" width="3" height="6.8" fill="#3cb83c"/>
<rect x="654" y="635.7" width="3" height="4.3" fill="#3cb83c"/>
<rect x="658" y="635.7" width="3" height="4.3" fill="#ff3333"/>
<rect x="662" y="638.3" width="3" height="1.7" fill="#ff3333"/>
<rect x="667" y="637.4" width="3" height="2.6" fill="#3cb83c"/>
<rect x="671" y="635.7" width="3" height="4.3" fill="#ff3333"/>
<rect x="675" y="636.6" width="3" height="3.4" fill="#3cb83c"/>
<rect x="680" y="636.6" width="3" height="3.4" fill="#ff3333"/>
<rect x="684" y="636.6" width="3" height="3.4" fill="#ff3333"/>
<rect x="688" y="636.6" width="3" height="3.4" fill="#3cb83c"/>
<rect x="692" y="637.4" width="3" height="2.6" fill="#3cb83c"/>
<rect x="697" y="637.8" width="3" height="2.2" fill="#ff3333"/>
<rect x="701" y="637.1" width="3" height="2.9" fill="#3cb83c"/>
<rect x="705" y="638.3" width="3" height="1.7" fill="#ff3333"/>
<rect x="710" y="638.3" width="3" height="1.7" fill="#3cb83c"/>
<rect x="714" y="637.8" width="3" height="2.2" fill="#3cb83c"/>
<rect x="718" y="637.8" width="3" height="2.2" fill="#ff3333"/>
<rect x="723" y="635.4" width="3" height="4.6" fill="#3cb83c"/>
<rect x="727" y="637.4" width="3" height="2.6" fill="#ff3333"/>
<rect x="731" y="637.8" width="3" height="2.2" fill="#3cb83c"/>
<rect x="735" y="637.8" width="3" height="2.2" fill="#ff3333"/>
<rect x="740" y="637.8" width="3" height="2.2" fill="#3cb83c"/>
<rect x="744" y="637.8" width="3" height="2.2" fill="#ff3333"/>
<rect x="748" y="638.8" width="3" height="1.2" fill="#ff3333"/>
<rect x="753" y="637.8" width="3" height="2.2" fill="#3cb83c"/>
<rect x="757" y="637.8" width="3" height="2.2" fill="#ff3333"/>
<rect x="761" y="637.4" width="3" height="2.6" fill="#ff3333"/>
<rect x="766" y="636.6" width="3" height="3.4" fill="#ff3333"/>
<rect x="770" y="637.4" width="3" height="2.6" fill="#ff3333"/>
<rect x="774" y="637.8" width="3" height="2.2" fill="#ff3333"/>
<rect x="778" y="637.8" width="3" height="2.2" fill="#3cb83c"/>
<rect x="783" y="636.1" width="3" height="3.9" fill="#ff3333"/>
<rect x="787" y="635.4" width="3" height="4.6" fill="#ff3333"/>
<rect x="791" y="637.8" width="3" height="2.2" fill="#ff3333"/>
<rect x="796" y="638.3" width="3" height="1.7" fill="#3cb83c"/>
<rect x="800" y="638.3" width="3" height="1.7" fill="#ff3333"/>
<rect x="804" y="638.3" width="3" height="1.7" fill="#3cb83c"/>
<rect x="809" y="637.8" width="3" height="2.2" fill="#ff3333"/>
<rect x="813" y="638.3" width="3" height="1.7" fill="#3cb83c"/>
<rect x="817" y="636.6" width="3" height="3.4" fill="#3cb83c"/>
<rect x="821" y="636.6" width="3" height="3.4" fill="#3cb83c"/>
<rect x="826" y="638.3" width="3" height="1.7" fill="#ff3333"/>
<rect x="830" y="638.3" width="3" height="1.7" fill="#3cb83c"/>
<rect x="834" y="638.3" width="3" height="1.7" fill="#ff3333"/>
<rect x="839" y="637.8" width="3" height="2.2" fill="#ff3333"/>
<rect x="843" y="636.6" width="3" height="3.4" fill="#3cb83c"/>
<rect x="847" y="637.4" width="3" height="2.6" fill="#ff3333"/>
<rect x="852" y="637.4" width="3" height="2.6" fill="#ff3333"/>
<rect x="856" y="637.1" width="3" height="2.9" fill="#ff3333"/>
<rect x="860" y="633.7" width="3" height="6.3" fill="#ff3333"/>
<rect x="865" y="636.1" width="3" height="3.9" fill="#3cb83c"/>
<rect x="869" y="637.8" width="3" height="2.2" fill="#3cb83c"/>
<rect x="873" y="637.4" width="3" height="2.6" fill="#3cb83c"/>
<rect x="877" y="636.1" width="3" height="3.9" fill="#3cb83c"/>
<rect x="882" y="629.2" width="3" height="10.8" fill="#ff3333"/>
<rect x="886" y="637.1" width="3" height="2.9" fill="#3cb83c"/>
<rect x="890" y="635.7" width="3" height="4.3" fill="#ff3333"/>
<rect x="895" y="635.7" width="3" height="4.3" fill="#ff3333"/>
<rect x="899" y="637.1" width="3" height="2.9" fill="#ff3333"/>
<rect x="903" y="637.1" width="3" height="2.9" fill="#3cb83c"/>
<rect x="908" y="637.4" width="3" height="2.6" fill="#3cb83c"/>
<rect x="912" y="635.7" width="3" height="4.3" fill="#ff3333"/>
<rect x="916" y="634.4" width="3" height="5.6" fill="#3cb83c"/>
<rect x="920" y="638.8" width="3" height="1.2" fill="#3cb83c"/>
<rect x="925" y="637.8" width="3" height="2.2" fill="#ff3333"/>
<rect x="929" y="637.8" width="3" height="2.2" fill="#3cb83c"/>
<rect x="933" y="637.8" width="3" height="2.2" fill="#ff3333"/>
<rect x="938" y="638.3" width="3" height="1.7" fill="#3cb83c"/>
<rect x="942" y="638.3" width="3" height="1.7" fill="#3cb83c"/>
<rect x="946" y="638.3" width="3" height="1.7" fill="#ff3333"/>
<rect x="951" y="638.3" width="3" height="1.7" fill="#3cb83c"/>
<rect x="955" y="637.8" width="3" height="2.2" fill="#ff3333"/>
<rect x="959" y="637.8" width="3" height="2.2" fill="#ff3333"/>
<rect x="963" y="637.8" width="3" height="2.2" fill="#3cb83c"/>
<rect x="968" y="637.8" width="3" height="2.2" fill="#ff3333"/>
<rect x="972" y="638.3" width="3" height="1.7" fill="#3cb83c"/>
<rect x="976" y="637.8" width="3" height="2.2" fill="#ff3333"/>
<rect x="981" y="637.4" width="3" height="2.6" fill="#ff3333"/>
<rect x="985" y="636.6" width="3" height="3.4" fill="#ff3333"/>
<rect x="989" y="638.8" width="3" height="1.2" fill="#3cb83c"/>
<polyline points="17.9,636.1 22.2,635.9 26.5,636.2 30.8,636.4 35.1,636.3 39.4,635.9 43.7,635.7 48.0,634.4 52.3,634.3 56.6,634.4 60.9,634.9 65.2,634.9 69.6,635.9 73.9,635.6 78.2,635.3 82.5,635.1 86.8,635.1 91.1,635.1 95.4,635.0 99.7,635.3 104.0,635.3 108.3,635.4 112.6,635.8 116.9,636.1 121.2,636.2 125.5,636.4 129.8,636.4 134.1,636.3 138.4,636.4 142.7,636.1 147.0,633.9 151.3,632.1 155.6,631.6 159.9,631.1 164.2,631.3 168.5,633.4 172.8,634.6 177.1,634.9 181.4,635.4 185.7,635.5 190.0,635.6 194.3,636.4 198.6,636.8 202.9,636.6 207.2,636.7 211.5,636.9 215.8,637.0 220.1,637.0 224.4,637.3 228.7,637.3 233.0,636.6 237.3,636.3 241.7,636.0 246.0,635.9 250.3,635.4 254.6,635.0 258.9,635.2 263.2,635.4 267.5,634.7 271.8,634.8 276.1,635.1 280.4,608.9 284.7,608.8 289.0,608.9 293.3,608.9 297.6,609.0 301.9,634.9 306.2,635.1 310.5,635.1 314.8,634.3 319.1,634.5 323.4,633.6 327.7,632.5 332.0,632.4 336.3,633.4 340.6,633.8 344.9,635.0 349.2,636.3 353.5,636.9 357.8,636.9 362.1,637.1 366.4,637.1 370.7,636.8 375.0,636.8 379.3,636.9 383.6,636.9 387.9,636.9 392.2,637.3 396.5,636.9 400.8,636.6 405.1,636.2 409.4,636.1 413.8,635.9 418.1,636.5 422.4,637.0 426.7,637.4 431.0,637.7 435.3,637.9 439.6,637.8 443.9,637.8 448.2,637.6 452.5,637.4 456.8,637.1 461.1,636.9 465.4,636.8 469.7,636.4 474.0,636.3 478.3,636.4 482.6,636.4 486.9,636.4 491.2,636.9 495.5,637.3 499.8,637.3 504.1,637.2 508.4,637.2 512.7,637.2 517.0,637.1 521.3,637.0 525.6,637.0 529.9,636.8 534.2,636.7 538.5,636.8 542.8,636.9 547.1,636.2 551.4,636.4 555.7,636.3 560.0,635.8 564.3,635.7 568.6,636.6 572.9,636.6 577.2,636.6 581.5,636.8 585.9,636.4 590.2,636.4 594.5,634.1 598.8,634.1 603.1,634.3 607.4,633.6 611.7,633.2 616.0,635.4 620.3,635.6 624.6,635.7 628.9,636.8 633.2,637.0 637.5,637.0 641.8,636.8 646.1,636.5 650.4,635.6 654.7,635.4 659.0,635.2 663.3,635.4 667.6,635.6 671.9,636.1 676.2,636.3 680.5,636.4 684.8,636.1 689.1,635.9 693.4,636.3 697.7,636.5 702.0,636.6 706.3,636.9 710.6,637.3 714.9,637.3 719.2,637.3 723.5,637.0 727.8,636.8 732.1,636.7 736.4,636.7 740.7,636.7 745.0,637.2 749.3,637.5 753.6,637.5 758.0,637.5 762.3,637.4 766.6,637.2 770.9,636.9 775.2,636.9 779.5,636.9 783.8,636.6 788.1,636.4 792.4,636.5 796.7,636.6 801.0,636.7 805.3,637.1 809.6,637.6 813.9,637.7 818.2,637.3 822.5,637.0 826.8,637.0 831.1,637.1 835.4,637.1 839.7,637.3 844.0,637.3 848.3,637.2 852.6,637.0 856.9,636.8 861.2,635.9 865.5,635.8 869.8,635.9 874.1,635.9 878.4,635.7 882.7,634.8 887.0,635.0 891.3,634.6 895.6,634.3 899.9,634.5 904.2,636.0 908.5,636.1 912.8,636.1 917.1,635.8 921.4,636.2 925.7,636.3 930.0,636.4 934.4,636.8 938.7,637.6 943.0,637.5 947.3,637.6 951.6,637.7 955.9,637.7 960.2,637.6 964.5,637.5 968.8,637.4 973.1,637.4 977.4,637.4 981.7,637.3 986.0,637.1 990.3,637.3" fill="none" stroke="#ff2020" stroke-width="1.2"/>
<rect x="14.5" y="21.5" width="1107" height="461" fill="none" stroke="#dcdcdc"/>
<line x1="14.5" y1="214" x2="14.5" y2="283.5" stroke="#f5a540" stroke-width="1"/>
<text x="14" y="13" font-family="Liberation Sans, sans-serif" font-size="12" fill="#6e6e6e">WENDEL INVEST. - abcbourse.com</text>
<text x="1121" y="13" font-family="Liberation Sans, sans-serif" font-size="12" fill="#6e6e6e" text-anchor="end">1 AN - JOUR</text>
<text x="19" y="33" font-family="Liberation Sans, sans-serif" font-size="12" fill="#f5a540">BOLL (20, 2)</text>
<text x="102" y="33" font-family="Liberation Sans, sans-serif" font-size="12" fill="#ff0000">MM (20)</text>
<text x="161.5" y="33" font-family="Liberation Sans, sans-serif" font-size="12" fill="#ffb0b0">SUPERTREND (10, 3)</text>
<text x="19" y="499" font-family="Liberation Sans, sans-serif" font-size="12" fill="#4cbb4c">VOLUMECASH</text>
<text x="1126" y="53" font-family="Liberation Sans, sans-serif" font-size="12" fill="#666">99.00</text>
<text x="1126" y="93" font-family="Liberation Sans, sans-serif" font-size="12" fill="#666">96.00</text>
<text x="1126" y="134" font-family="Liberation Sans, sans-serif" font-size="12" fill="#666">93.00</text>
<text x="1126" y="174" font-family="Liberation Sans, sans-serif" font-size="12" fill="#666">90.00</text>
<text x="1126" y="214" font-family="Liberation Sans, sans-serif" font-size="12" fill="#666">87.00</text>
<text x="1126" y="255" font-family="Liberation Sans, sans-serif" font-size="12" fill="#666">84.00</text>
<text x="1126" y="295" font-family="Liberation Sans, sans-serif" font-size="12" fill="#666">81.00</text>
<text x="1126" y="335" font-family="Liberation Sans, sans-serif" font-size="12" fill="#666">78.00</text>
<text x="1126" y="376" font-family="Liberation Sans, sans-serif" font-size="12" fill="#666">75.00</text>
<text x="1126" y="416" font-family="Liberation Sans, sans-serif" font-size="12" fill="#666">72.00</text>
<text x="1126" y="456" font-family="Liberation Sans, sans-serif" font-size="12" fill="#666">69.00</text>
<text x="1126" y="524" font-family="Liberation Sans, sans-serif" font-size="12" fill="#666">140M</text>
<text x="1126" y="583" font-family="Liberation Sans, sans-serif" font-size="12" fill="#666">70M</text>
<text x="93.5" y="656" font-family="Liberation Sans, sans-serif" font-size="12" fill="#666" text-anchor="middle">02/10</text>
<text x="171.5" y="656" font-family="Liberation Sans, sans-serif" font-size="12" fill="#666" text-anchor="middle">26/10</text>
<text x="248.5" y="656" font-family="Liberation Sans, sans-serif" font-size="12" fill="#666" text-anchor="middle">21/11</text>
<text x="326.5" y="656" font-family="Liberation Sans, sans-serif" font-size="12" fill="#666" text-anchor="middle">15/12</text>
<text x="403.5" y="656" font-family="Liberation Sans, sans-serif" font-size="12" fill="#666" text-anchor="middle">15/01</text>
<text x="481.5" y="656" font-family="Liberation Sans, sans-serif" font-size="12" fill="#666" text-anchor="middle">08/02</text>
<text x="558.5" y="656" font-family="Liberation Sans, sans-serif" font-size="12" fill="#666" text-anchor="middle">05/03</text>
<text x="635.5" y="656" font-family="Liberation Sans, sans-serif" font-size="12" fill="#666" text-anchor="middle">02/04</text>
<text x="713.5" y="656" font-family="Liberation Sans, sans-serif" font-size="12" fill="#666" text-anchor="middle">26/04</text>
<text x="790.5" y="656" font-family="Liberation Sans, sans-serif" font-size="12" fill="#666" text-anchor="middle">23/05</text>
<text x="868.5" y="656" font-family="Liberation Sans, sans-serif" font-size="12" fill="#666" text-anchor="middle">18/06</text>
<text x="945.5" y="656" font-family="Liberation Sans, sans-serif" font-size="12" fill="#666" text-anchor="middle">12/07</text>
<text x="1023.5" y="656" font-family="Liberation Sans, sans-serif" font-size="12" fill="#666" text-anchor="middle">08/08</text>
<text x="1100.5" y="656" font-family="Liberation Sans, sans-serif" font-size="12" fill="#666" text-anchor="middle">02/09</text>
<rect x="1123" y="192" width="47" height="17" fill="#666666"/>
<text x="1126" y="205" font-family="Liberation Sans, sans-serif" font-size="12" fill="#fff">88.00</text>
<rect x="1123" y="63" width="47" height="17" fill="#008000"/>
<text x="1126" y="76" font-family="Liberation Sans, sans-serif" font-size="12" fill="#fff">97.60</text>
<rect x="1123" y="468" width="47" height="15" fill="#c00000"/>
<text x="1126" y="481" font-family="Liberation Sans, sans-serif" font-size="12" fill="#fff">67.45</text>
<rect x="1123" y="624" width="47" height="16" fill="#00aa00"/>
<text x="1126" y="637" font-family="Liberation Sans, sans-serif" font-size="12" fill="#fff">1968K</text>
</svg>
</body></html>
